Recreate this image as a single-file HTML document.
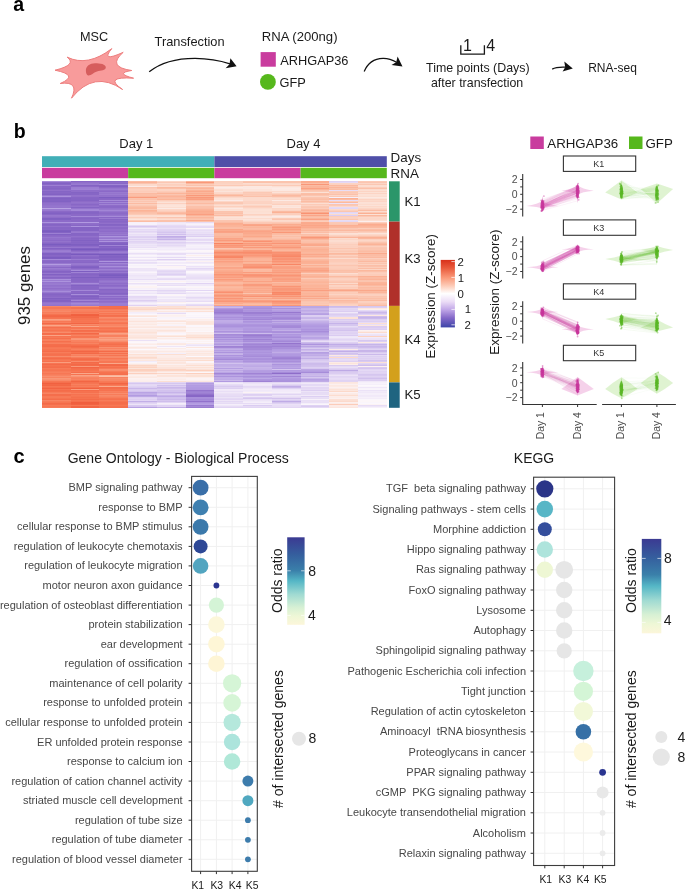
<!DOCTYPE html><html><head><meta charset="utf-8"><style>
html,body{margin:0;padding:0;background:#fff;width:685px;height:889px;overflow:hidden}
#wrap{position:relative;width:685px;height:889px}
svg{position:absolute;left:0;top:0;will-change:transform}
text{font-family:"Liberation Sans", sans-serif}
</style></head><body><div id="wrap">
<div style="position:absolute;left:42.00px;top:181.0px;width:29.03px;height:227px;background:linear-gradient(#a58ad8 0px 1px,#8a69c7 1px 2px,#8262c4 2px 3px,#8a68c7 3px 4px,#9c7fd3 4px 5px,#8866c6 5px 6px,#8867c6 6px 7px,#8464c4 7px 8px,#8968c7 8px 9px,#9170cb 9px 10px,#8565c5 10px 11px,#8867c6 11px 12px,#8665c5 12px 13px,#8262c3 13px 14px,#9879d0 14px 15px,#aa90dc 15px 16px,#8968c7 16px 17px,#8061c3 17px 18px,#8363c4 18px 20px,#8162c3 20px 21px,#8c6ac8 21px 22px,#906fcb 22px 24px,#9373cd 24px 25px,#9576ce 25px 26px,#9474cd 26px 27px,#b8a2e3 27px 28px,#997bd0 28px 29px,#9778cf 29px 30px,#8b69c7 30px 31px,#8564c5 31px 32px,#8161c3 32px 33px,#8968c7 33px 34px,#9677cf 34px 35px,#9474cd 35px 36px,#8e6dc9 36px 37px,#8061c3 37px 38px,#8162c3 38px 39px,#8d6bc9 39px 41px,#ac93dd 41px 42px,#906fca 42px 43px,#8564c5 43px 44px,#8766c6 44px 45px,#9170cb 45px 46px,#8766c6 46px 48px,#8867c6 48px 49px,#7e5fc1 49px 50px,#7b5dc0 50px 51px,#8464c4 51px 52px,#9c7fd3 52px 53px,#8161c3 53px 54px,#8a68c7 54px 55px,#8d6bc9 55px 56px,#9677cf 56px 57px,#906fcb 57px 59px,#8b69c8 59px 60px,#9373cc 60px 61px,#8d6bc8 61px 62px,#8665c5 62px 63px,#7a5cc0 63px 64px,#8363c4 64px 65px,#8967c6 65px 66px,#9778cf 66px 67px,#8362c4 67px 68px,#8c6ac8 68px 69px,#997bd0 69px 70px,#9c7fd3 70px 71px,#9373cd 71px 72px,#8161c3 72px 74px,#8867c6 74px 75px,#8564c5 75px 76px,#7b5cc0 76px 77px,#7e5ec1 77px 78px,#a489d8 78px 79px,#8c6ac8 79px 80px,#8968c7 80px 82px,#9778cf 82px 83px,#b39ce1 83px 84px,#9b7dd2 84px 85px,#9778cf 85px 86px,#8a68c7 86px 87px,#9a7cd1 87px 88px,#9474cd 88px 89px,#8e6dca 89px 90px,#8463c4 90px 91px,#8866c6 91px 92px,#9576ce 92px 93px,#8161c3 93px 94px,#8d6bc8 94px 95px,#9373cd 95px 96px,#8665c5 96px 97px,#8c6ac8 97px 98px,#aa91dc 98px 99px,#9a7cd1 99px 100px,#ac93dd 100px 101px,#9575ce 101px 102px,#997ad0 102px 103px,#9a7cd1 103px 104px,#9171cc 104px 105px,#9474cd 105px 106px,#9879d0 106px 107px,#8f6dca 107px 108px,#9474cd 108px 109px,#997bd1 109px 110px,#a78dda 110px 111px,#9778cf 111px 112px,#8a68c7 112px 113px,#8564c5 113px 114px,#8867c6 114px 115px,#8a68c7 115px 116px,#8f6eca 116px 117px,#8060c2 117px 118px,#8766c6 118px 119px,#8262c3 119px 120px,#8363c4 120px 121px,#9272cc 121px 122px,#9778cf 122px 123px,#9676ce 123px 124px,#9272cc 124px 125px,#f88766 125px 126px,#f77855 126px 128px,#f88361 128px 129px,#f88563 129px 130px,#f88a69 130px 131px,#f77d5b 131px 132px,#f8815f 132px 133px,#f67451 133px 134px,#f36947 134px 135px,#f36746 135px 136px,#f5714e 136px 137px,#f67552 137px 138px,#faa183 138px 139px,#f99475 139px 140px,#f77956 140px 141px,#f8805f 141px 142px,#f36a48 142px 143px,#f77e5c 143px 144px,#faa688 144px 145px,#f88968 145px 146px,#f56f4d 146px 147px,#f77957 147px 148px,#f77a58 148px 149px,#f67451 149px 150px,#f77d5b 150px 151px,#f88c6b 151px 152px,#f56e4c 152px 153px,#f56f4d 153px 154px,#faa385 154px 155px,#f67351 155px 156px,#f77956 156px 157px,#f5704d 157px 158px,#f87f5d 158px 159px,#f88260 159px 160px,#f5704d 160px 161px,#f77957 161px 162px,#f8815f 162px 163px,#f56e4c 163px 164px,#f46d4b 164px 165px,#f46c4a 165px 166px,#f77754 166px 167px,#f77a57 167px 168px,#f67451 168px 169px,#f6724f 169px 170px,#f46c4a 170px 171px,#f77c5a 171px 172px,#f67451 172px 173px,#f5704e 173px 174px,#f67250 174px 175px,#f88b6a 175px 176px,#f67451 176px 177px,#f46b49 177px 178px,#f67552 178px 179px,#f77a57 179px 180px,#f6724f 180px 181px,#fa9d7e 181px 182px,#f77553 182px 183px,#f46a49 183px 184px,#f67350 184px 185px,#f56f4d 185px 186px,#f46d4b 186px 187px,#f77c5a 187px 188px,#f77653 188px 189px,#f67452 189px 190px,#f77b59 190px 191px,#f8805e 191px 192px,#f77755 192px 193px,#f77d5b 193px 194px,#f88362 194px 195px,#f98f6f 195px 196px,#f88361 196px 197px,#f99777 197px 198px,#f99070 198px 199px,#f88968 199px 200px,#f77754 200px 201px,#f5704e 201px 202px,#f16140 202px 203px,#f36947 203px 204px,#f36745 204px 205px,#f77653 205px 206px,#f5704e 206px 207px,#f26443 207px 208px,#f67351 208px 209px,#f46c4a 209px 210px,#f56f4c 210px 211px,#f77b59 211px 212px,#f88362 212px 213px,#f46e4c 213px 214px,#f56e4c 214px 215px,#f77a57 215px 216px,#f77b58 216px 217px,#f67451 217px 218px,#f46d4b 218px 219px,#f88564 219px 220px,#f77a57 220px 221px,#f67552 221px 222px,#f36a48 222px 223px,#f56e4c 223px 224px,#f77b58 224px 225px,#f77653 225px 226px,#f77c59 226px 227px)"></div>
<div style="position:absolute;left:70.73px;top:181.0px;width:29.03px;height:227px;background:linear-gradient(#8766c6 0px 1px,#906fca 1px 2px,#9475ce 2px 3px,#997bd0 3px 4px,#8363c4 4px 5px,#8b69c7 5px 6px,#9b7dd2 6px 7px,#9c7fd3 7px 8px,#9f82d4 8px 9px,#8e6dca 9px 10px,#8f6eca 10px 11px,#8464c4 11px 12px,#8666c5 12px 13px,#8766c6 13px 14px,#9272cc 14px 15px,#9170cb 15px 16px,#8766c6 16px 17px,#8665c5 17px 18px,#8565c5 18px 19px,#8464c4 19px 20px,#8d6bc8 20px 21px,#9373cc 21px 22px,#906fcb 22px 23px,#8867c6 23px 24px,#8e6cc9 24px 25px,#9272cc 25px 26px,#8565c5 26px 27px,#9475cd 27px 28px,#a287d7 28px 29px,#a388d7 29px 30px,#8a69c7 30px 31px,#8565c5 31px 32px,#8665c5 32px 33px,#8b69c7 33px 34px,#8b6ac8 34px 35px,#a489d8 35px 36px,#8a69c7 36px 37px,#8665c5 37px 38px,#8a68c7 38px 39px,#8b69c7 39px 40px,#8a69c7 40px 41px,#b29ae1 41px 42px,#8f6eca 42px 43px,#8d6cc9 43px 44px,#8867c6 44px 45px,#ab92dd 45px 46px,#8463c4 46px 47px,#8464c4 47px 48px,#8564c5 48px 49px,#8565c5 49px 50px,#9576ce 50px 51px,#997ad0 51px 52px,#8565c5 52px 53px,#8665c5 53px 54px,#8766c6 54px 55px,#9171cb 55px 56px,#8c6ac8 56px 57px,#8665c5 57px 58px,#8867c6 58px 59px,#8161c3 59px 60px,#8867c6 60px 61px,#8565c5 61px 62px,#8766c6 62px 63px,#7e5fc1 63px 64px,#8161c3 64px 65px,#8d6bc9 65px 66px,#9575ce 66px 67px,#8161c3 67px 68px,#785abf 68px 69px,#8564c5 69px 70px,#906fca 70px 71px,#997bd1 71px 72px,#8968c7 72px 73px,#795abf 73px 74px,#9070cb 74px 75px,#8b69c8 75px 76px,#8665c5 76px 77px,#8867c6 77px 78px,#9a7cd1 78px 79px,#8a69c7 79px 80px,#8b69c8 80px 81px,#8867c6 81px 82px,#9778cf 82px 83px,#9879d0 83px 84px,#906fca 84px 85px,#8363c4 85px 86px,#8060c2 86px 87px,#8a68c7 87px 88px,#9575ce 88px 89px,#a78dda 89px 90px,#7d5ec1 90px 91px,#9f82d4 91px 92px,#8968c7 92px 93px,#8564c5 93px 94px,#8867c6 94px 95px,#8a69c7 95px 96px,#7e5fc1 96px 97px,#8867c6 97px 100px,#8967c6 100px 101px,#8e6cc9 101px 102px,#a68bd9 102px 103px,#9475cd 103px 104px,#8262c3 104px 105px,#8967c6 105px 106px,#8867c6 106px 108px,#8b69c7 108px 109px,#a387d7 109px 110px,#8967c7 110px 111px,#8b69c7 111px 112px,#8565c5 112px 113px,#a78dda 113px 114px,#8968c7 114px 115px,#8060c2 115px 116px,#8766c5 116px 117px,#8362c4 117px 118px,#8f6eca 118px 119px,#a185d6 119px 120px,#8766c6 120px 121px,#9879d0 121px 122px,#a388d7 122px 123px,#9d81d3 123px 124px,#9879d0 124px 125px,#f99171 125px 126px,#f67451 126px 127px,#f67350 127px 128px,#f88462 128px 129px,#f88260 129px 130px,#f87f5d 130px 131px,#f77856 131px 132px,#f87f5d 132px 133px,#f16241 133px 134px,#f1603f 134px 135px,#f46b49 135px 136px,#f36a48 136px 137px,#f67350 137px 139px,#f77653 139px 140px,#f67451 140px 141px,#f77654 141px 142px,#f26645 142px 143px,#f88968 143px 144px,#f77d5a 144px 145px,#faa587 145px 146px,#f77653 146px 147px,#f77754 147px 148px,#f88867 148px 149px,#f46d4b 149px 150px,#f5704e 150px 151px,#f88463 151px 152px,#f36846 152px 153px,#f67552 153px 154px,#f88361 154px 155px,#f67552 155px 156px,#f77653 156px 157px,#f99575 157px 158px,#f9997a 158px 159px,#f88361 159px 160px,#f88260 160px 161px,#f77a58 161px 162px,#f88462 162px 163px,#f77552 163px 164px,#f56e4c 164px 165px,#f36745 165px 166px,#f46e4c 166px 167px,#f77a57 167px 168px,#f8815f 168px 169px,#f77552 169px 170px,#f26645 170px 171px,#f67350 171px 172px,#f36947 172px 173px,#f88665 173px 174px,#f87f5d 174px 175px,#f99272 175px 176px,#f77e5c 176px 177px,#f46e4c 177px 178px,#f46a48 178px 179px,#f67350 179px 180px,#f88c6c 180px 181px,#f36a48 181px 182px,#f56f4d 182px 183px,#f36947 183px 184px,#f46c4a 184px 185px,#f99879 185px 186px,#f26544 186px 187px,#f56e4c 187px 188px,#f5714e 188px 189px,#f67350 189px 190px,#f77856 190px 191px,#f46d4b 191px 192px,#faa78a 192px 193px,#f67350 193px 194px,#faa285 194px 195px,#f99475 195px 196px,#f88462 196px 197px,#f8805f 197px 198px,#f88463 198px 199px,#f77754 199px 200px,#f26644 200px 201px,#f5714f 201px 202px,#f67552 202px 203px,#f8805e 203px 204px,#f77754 204px 205px,#f77e5c 205px 206px,#f6724f 206px 207px,#f16140 207px 208px,#fa9e7f 208px 209px,#f46b49 209px 210px,#f6724f 210px 211px,#f5714f 211px 212px,#f87f5d 212px 213px,#f67250 213px 214px,#f77855 214px 215px,#f67552 215px 216px,#f5704d 216px 217px,#f67350 217px 218px,#f46b49 218px 219px,#f67552 219px 220px,#f56f4d 220px 221px,#f05e3e 221px 222px,#f05f3e 222px 223px,#f26342 223px 224px,#f77754 224px 225px,#f26645 225px 226px,#f26644 226px 227px)"></div>
<div style="position:absolute;left:99.47px;top:181.0px;width:29.03px;height:227px;background:linear-gradient(#8766c6 0px 1px,#8d6cc9 1px 2px,#8a68c7 2px 3px,#a185d6 3px 4px,#8464c4 4px 5px,#8161c3 5px 6px,#8b69c8 6px 7px,#9475cd 7px 8px,#997bd1 8px 9px,#8f6fca 9px 10px,#8b69c8 10px 11px,#987ad0 11px 12px,#9474cd 12px 13px,#997bd1 13px 14px,#9170cb 14px 15px,#9272cc 15px 16px,#7d5ec1 16px 17px,#8766c6 17px 18px,#8967c6 18px 19px,#a48ad8 19px 20px,#8c6ac8 20px 21px,#a186d6 21px 22px,#8e6dca 22px 23px,#9f82d4 23px 24px,#8e6cc9 24px 25px,#8968c7 25px 26px,#8a69c7 26px 27px,#9373cd 27px 28px,#9778cf 28px 29px,#a286d6 29px 30px,#9576ce 30px 31px,#8e6cc9 31px 32px,#8b69c7 32px 33px,#8e6dca 33px 34px,#9474cd 34px 35px,#a58ad8 35px 36px,#8967c6 36px 37px,#997ad0 37px 38px,#8665c5 38px 39px,#8b69c7 39px 40px,#8766c6 40px 41px,#8b69c7 41px 42px,#9170cb 42px 43px,#8464c4 43px 44px,#8666c5 44px 45px,#9373cd 45px 46px,#8b69c8 46px 47px,#8a69c7 47px 48px,#9170cb 48px 49px,#906fcb 49px 50px,#8d6bc9 50px 51px,#9575ce 51px 52px,#9373cc 52px 53px,#997bd0 53px 54px,#8f6eca 54px 55px,#ad95de 55px 56px,#9c7fd2 56px 57px,#9576ce 57px 58px,#ac93dd 58px 59px,#9272cc 59px 60px,#ac93dd 60px 61px,#8867c6 61px 62px,#8363c4 62px 63px,#7f60c2 63px 64px,#9f83d5 64px 65px,#8161c3 65px 66px,#8766c6 66px 67px,#8061c3 67px 68px,#7d5ec1 68px 69px,#8766c6 69px 70px,#9677cf 70px 71px,#9b7dd2 71px 72px,#8e6dca 72px 73px,#775abe 73px 74px,#8666c5 74px 75px,#8161c3 75px 76px,#8262c3 76px 77px,#8766c6 77px 78px,#8363c4 78px 79px,#8e6cc9 79px 80px,#ad95de 80px 81px,#8867c6 81px 82px,#a184d6 82px 83px,#9677cf 83px 84px,#9070cb 84px 85px,#a88eda 85px 86px,#9879d0 86px 87px,#8f6eca 87px 88px,#9d80d3 88px 89px,#9677ce 89px 90px,#8a69c7 90px 91px,#9677cf 91px 92px,#8766c6 92px 93px,#7e5fc2 93px 94px,#7a5cc0 94px 95px,#8564c5 95px 96px,#7d5ec1 96px 97px,#8c6ac8 97px 99px,#9373cd 99px 100px,#987ad0 100px 101px,#9474cd 101px 102px,#8d6cc9 102px 103px,#9373cc 103px 104px,#8a69c7 104px 105px,#8e6dca 105px 106px,#9a7cd1 106px 107px,#9778cf 107px 108px,#8665c5 108px 109px,#8b69c7 109px 110px,#8d6bc8 110px 111px,#8c6ac8 111px 112px,#8464c4 112px 113px,#8b69c7 113px 114px,#9f83d5 114px 115px,#8c6ac8 115px 116px,#9778cf 116px 117px,#8968c7 117px 118px,#8e6cc9 118px 119px,#9677cf 119px 120px,#8e6cc9 120px 121px,#9272cc 121px 122px,#9b7ed2 122px 123px,#9b7dd2 123px 124px,#997bd0 124px 125px,#f56e4c 125px 126px,#f56f4d 126px 127px,#f46c4a 127px 128px,#f77c5a 128px 129px,#f88362 129px 130px,#f77956 130px 131px,#f88766 131px 132px,#f77653 132px 133px,#f87f5d 133px 134px,#f56f4c 134px 135px,#f5714f 135px 136px,#f98e6d 136px 137px,#f88564 137px 138px,#f77a58 138px 139px,#f88261 139px 140px,#f88a69 140px 141px,#f77a57 141px 142px,#f67351 142px 143px,#f88462 143px 145px,#f88d6c 145px 146px,#f77b58 146px 147px,#f67350 147px 148px,#f77b58 148px 149px,#f77653 149px 150px,#f56f4d 150px 151px,#f88462 151px 152px,#faa285 152px 153px,#f99576 153px 154px,#f8805f 154px 155px,#f8815f 155px 156px,#fa9e80 156px 157px,#f99373 157px 158px,#faa284 158px 159px,#f9997a 159px 160px,#f88c6c 160px 161px,#f77a58 161px 162px,#f67451 162px 163px,#f46e4c 163px 164px,#f77855 164px 165px,#f67452 165px 166px,#f99070 166px 167px,#f88260 167px 168px,#f99070 168px 169px,#f8815f 169px 170px,#f46b49 170px 171px,#f88766 171px 172px,#f5704d 172px 173px,#f88665 173px 174px,#f67451 174px 175px,#f88867 175px 176px,#f88968 176px 177px,#f77653 177px 178px,#f8805e 178px 179px,#f88361 179px 180px,#f77754 180px 181px,#f77855 181px 182px,#faa789 182px 183px,#f36948 183px 184px,#f36746 184px 185px,#f77653 185px 186px,#f56f4d 186px 187px,#f77a58 187px 188px,#f98f6f 188px 189px,#f88c6b 189px 190px,#f77c5a 190px 191px,#f67350 191px 192px,#f5714f 192px 193px,#f56f4d 193px 194px,#fbb398 194px 195px,#fbbfa8 195px 196px,#f88260 196px 197px,#f98d6d 197px 198px,#f88867 198px 199px,#f88766 199px 200px,#f77b58 200px 201px,#f77754 201px 202px,#f26544 202px 203px,#f56f4d 203px 204px,#f77c59 204px 205px,#faa88b 205px 206px,#f46c4a 206px 207px,#f46e4c 207px 208px,#f67552 208px 209px,#f67250 209px 210px,#f8805e 210px 211px,#f77c5a 211px 212px,#f98d6d 212px 213px,#f77c59 213px 214px,#f88a6a 214px 215px,#f88563 215px 216px,#f77e5c 216px 217px,#f67451 217px 218px,#f5704e 218px 219px,#f77c5a 219px 220px,#f67451 220px 221px,#f46d4b 221px 223px,#f5704d 223px 224px,#f77754 224px 225px,#f5704e 225px 226px,#f56f4c 226px 227px)"></div>
<div style="position:absolute;left:128.20px;top:181.0px;width:29.03px;height:227px;background:linear-gradient(#fbbca3 0px 1px,#fbb297 1px 2px,#fbc4af 2px 3px,#fcdacc 3px 4px,#fcdbcd 4px 5px,#fceae5 5px 6px,#fbc6b1 6px 7px,#fccbb8 7px 8px,#fcd0bf 8px 9px,#fccfbd 9px 10px,#fccbb8 10px 11px,#fccebc 11px 12px,#fbbaa1 12px 13px,#fbbfa7 13px 14px,#fbbea6 14px 15px,#fbb79d 15px 16px,#fa9c7e 16px 17px,#fbc3ad 17px 18px,#fbc1aa 18px 19px,#fccebc 19px 20px,#fbc5b0 20px 21px,#fcd0bf 21px 22px,#fbbba2 22px 23px,#fccfbd 23px 24px,#fbc9b4 24px 25px,#fbc0a9 25px 26px,#fbbaa1 26px 27px,#fbbaa0 27px 28px,#fbc8b3 28px 29px,#fbb397 29px 30px,#fbb89e 30px 31px,#fbc0a9 31px 32px,#fbc3ac 32px 33px,#fccab6 33px 34px,#fcdccf 34px 35px,#fcdcce 35px 36px,#fccdba 36px 37px,#fcdcce 37px 38px,#fce4da 38px 39px,#fccbb8 39px 40px,#fbbda5 40px 41px,#f6f0fa 41px 42px,#f7f2fb 42px 43px,#f7f2fa 43px 44px,#e6dbf5 44px 45px,#d7c8ef 45px 46px,#e4d8f4 46px 47px,#f3ecf9 47px 48px,#e5daf5 48px 49px,#e9dff6 49px 50px,#e2d5f4 50px 51px,#e7dcf5 51px 52px,#f0e8f8 52px 53px,#e9def6 53px 54px,#ebe2f7 54px 55px,#dfd2f3 55px 56px,#ded0f2 56px 57px,#e8def6 57px 58px,#ded1f2 58px 59px,#eae0f6 59px 60px,#e0d3f3 60px 61px,#e3d7f4 61px 62px,#e7dcf5 62px 63px,#eee6f8 63px 64px,#eae1f6 64px 65px,#eee5f7 65px 66px,#e9def6 66px 67px,#f6f1fa 67px 68px,#f2ebf9 68px 69px,#fcf8fc 69px 70px,#faf6fc 70px 71px,#f6f0fa 71px 72px,#e9dff6 72px 73px,#f1e9f8 73px 74px,#faf6fb 74px 75px,#f7f2fa 75px 76px,#eee6f8 76px 77px,#fcf7fb 77px 78px,#f1eaf9 78px 79px,#eae0f6 79px 80px,#f6f0fa 80px 81px,#e8def6 81px 82px,#ebe2f7 82px 83px,#faf6fb 83px 84px,#f6f1fa 84px 85px,#f9f4fb 85px 86px,#faf5fb 86px 87px,#ede4f7 87px 88px,#eee5f7 88px 89px,#ede5f7 89px 90px,#f5eefa 90px 91px,#faf5fb 91px 92px,#f3ebf9 92px 93px,#f2eaf9 93px 94px,#ede4f7 94px 95px,#efe7f8 95px 96px,#f1e9f8 96px 97px,#f1eaf9 97px 98px,#e7ddf5 98px 99px,#f7f1fa 99px 100px,#f5effa 100px 101px,#fcf6f9 101px 102px,#eae0f6 102px 103px,#f2ebf9 103px 104px,#faf5fb 104px 105px,#fcf3f4 105px 106px,#fcf3f3 106px 107px,#f6f0fa 107px 108px,#f8f3fb 108px 109px,#e4d8f4 109px 110px,#f4edf9 110px 111px,#f3ecf9 111px 112px,#eee6f8 112px 113px,#f9f4fb 113px 114px,#f5effa 114px 115px,#e4d8f4 115px 116px,#e6daf5 116px 117px,#e9dff6 117px 118px,#ece2f7 118px 119px,#dccef1 119px 120px,#e5daf5 120px 121px,#f2ebf9 121px 122px,#f7f1fa 122px 123px,#f2eaf9 123px 124px,#e0d2f3 124px 125px,#fcedea 125px 126px,#fcdcce 126px 128px,#fcd6c6 128px 129px,#fce6df 129px 130px,#fceae5 130px 131px,#f4edf9 131px 132px,#f6f0fa 132px 133px,#fbf7fc 133px 134px,#fceae4 134px 135px,#fce5dc 135px 136px,#fcf7fa 136px 137px,#fceeec 137px 138px,#fceeeb 138px 139px,#fcece8 139px 140px,#fce3da 140px 141px,#fceeeb 141px 142px,#fcede9 142px 143px,#fce9e3 143px 144px,#fcf0ee 144px 145px,#fceae5 145px 146px,#fce7e0 146px 147px,#fcf2f2 147px 148px,#fcebe6 148px 149px,#fce9e3 149px 150px,#fce8e1 150px 151px,#fce2d7 151px 152px,#fce7e0 152px 153px,#fcece9 153px 154px,#fce7e0 154px 155px,#fce6df 155px 156px,#fce3d9 156px 157px,#fce8e1 157px 158px,#fcf2f2 158px 159px,#eae0f6 159px 160px,#fcf5f8 160px 161px,#fcf7fb 161px 162px,#fcf1f0 162px 163px,#fcece9 163px 164px,#fcf6f9 164px 165px,#fcf1f0 165px 166px,#fce7e0 166px 167px,#fcece9 167px 168px,#fcf8fc 168px 169px,#fcefed 169px 170px,#fceae5 170px 172px,#fcf1f1 172px 173px,#fce0d4 173px 174px,#fce8e2 174px 175px,#fce6de 175px 176px,#fcdacc 176px 177px,#fcdfd3 177px 178px,#fcebe7 178px 179px,#fce7e0 179px 180px,#f2ebf9 180px 181px,#f9f5fb 181px 182px,#fcf1f0 182px 183px,#fce6de 183px 184px,#fcd4c3 184px 185px,#fcdbcd 185px 186px,#fcd3c2 186px 187px,#fce4da 187px 188px,#fcd0be 188px 190px,#fcd9cb 190px 191px,#fce7e0 191px 192px,#fccfbe 192px 193px,#fce9e3 193px 194px,#fcf0ef 194px 195px,#fcebe6 195px 196px,#fce9e3 196px 197px,#fcf2f2 197px 198px,#fcf0ef 198px 199px,#fcefed 199px 200px,#fcedea 200px 201px,#e3d7f4 201px 202px,#d6c6ef 202px 203px,#e4d8f4 203px 204px,#e5daf5 204px 205px,#dfd2f3 205px 206px,#daccf1 206px 207px,#c9b7ea 207px 208px,#d9cbf0 208px 209px,#dbcdf1 209px 210px,#d3c3ee 210px 211px,#b9a3e4 211px 212px,#c1ade7 212px 213px,#c4b0e8 213px 214px,#b29be1 214px 215px,#bda8e5 215px 216px,#dccef2 216px 217px,#e1d4f3 217px 218px,#dccef1 218px 219px,#e2d5f4 219px 220px,#c2afe7 220px 221px,#dacbf0 221px 222px,#e2d6f4 222px 223px,#ede5f7 223px 224px,#d8c9f0 224px 225px,#d5c5ef 225px 226px,#b8a2e3 226px 227px)"></div>
<div style="position:absolute;left:156.93px;top:181.0px;width:29.03px;height:227px;background:linear-gradient(#fcd6c6 0px 1px,#fbc7b3 1px 2px,#fcd9cb 2px 3px,#fcd0be 3px 4px,#fcd2c1 4px 5px,#fcdacc 5px 6px,#fbb9a0 6px 7px,#fbc0a8 7px 8px,#fcd4c3 8px 9px,#fcd4c4 9px 10px,#fcccb8 10px 11px,#fbc4af 11px 12px,#fbb599 12px 13px,#fbc5b0 13px 14px,#fbbaa1 14px 15px,#fbb398 15px 16px,#fbbba3 16px 17px,#fbbea6 17px 18px,#fbb498 18px 19px,#fccebb 19px 20px,#fcd8c9 20px 21px,#fce2d7 21px 22px,#fcd0bf 22px 23px,#fce0d5 23px 24px,#fce3d9 24px 25px,#fce4da 25px 26px,#fcddd0 26px 27px,#fceae4 27px 28px,#fcd7c8 28px 29px,#fcd3c3 29px 30px,#fcccb9 30px 31px,#fbbda5 31px 32px,#fbb69c 32px 33px,#fbc7b2 33px 34px,#fcdcce 34px 35px,#fce1d5 35px 36px,#fbc4af 36px 37px,#fcd5c5 37px 38px,#fcdccf 38px 39px,#fbc2ac 39px 40px,#fbc2ab 40px 41px,#efe7f8 41px 42px,#f3ecf9 42px 43px,#f0e8f8 43px 44px,#e6dbf5 44px 45px,#e2d6f4 45px 46px,#e4d8f4 46px 47px,#eae0f6 47px 48px,#e1d4f3 48px 49px,#dfd2f3 49px 50px,#dbcef1 50px 51px,#d5c5ef 51px 52px,#dfd2f3 52px 53px,#d0bfed 53px 54px,#e5d9f5 54px 55px,#c0ace7 55px 56px,#c7b5e9 56px 57px,#d4c5ee 57px 58px,#c5b3e9 58px 59px,#e3d6f4 59px 60px,#e9dff6 60px 61px,#ddcff2 61px 62px,#e3d7f4 62px 63px,#e9dff6 63px 64px,#e4d9f4 64px 65px,#ebe1f6 65px 66px,#f1eaf8 66px 67px,#f4eefa 67px 68px,#f2ebf9 68px 69px,#f7f1fa 69px 70px,#fbf7fc 70px 71px,#f5eefa 71px 72px,#e7dcf5 72px 73px,#e8def6 73px 74px,#f7f2fb 74px 75px,#f5effa 75px 76px,#e5daf5 76px 77px,#f9f4fb 77px 78px,#ddd0f2 78px 79px,#eee5f7 79px 80px,#faf6fb 80px 81px,#f2eaf9 81px 82px,#f3ecf9 82px 83px,#fcf7fb 83px 84px,#eee6f8 84px 85px,#fcf4f6 85px 87px,#faf5fb 87px 88px,#f2ebf9 88px 89px,#e6dbf5 89px 90px,#e2d6f4 90px 91px,#e7ddf5 91px 92px,#e3d8f4 92px 93px,#ddd0f2 93px 94px,#e6dbf5 94px 95px,#f8f3fb 95px 96px,#f4eefa 96px 97px,#e9def6 97px 98px,#e5daf5 98px 99px,#f8f2fb 99px 100px,#fcf2f2 100px 101px,#fbf7fc 101px 102px,#e8def6 102px 103px,#efe7f8 103px 104px,#e9dff6 104px 105px,#fcf7fa 105px 106px,#f8f3fb 106px 107px,#f1eaf8 107px 108px,#f0e9f8 108px 109px,#e2d6f4 109px 110px,#eae0f6 110px 111px,#ede5f7 111px 112px,#e4d8f4 112px 113px,#f9f4fb 113px 114px,#fcf5f7 114px 115px,#f2ebf9 115px 116px,#f0e9f8 116px 117px,#f6f1fa 117px 118px,#eee5f7 118px 119px,#efe7f8 119px 120px,#ebe2f7 120px 121px,#fcf1f0 121px 122px,#fcf7fb 122px 123px,#f1e9f8 123px 124px,#ede4f7 124px 125px,#fcdfd3 125px 126px,#fce1d5 126px 127px,#fcd6c7 127px 128px,#fce7df 128px 129px,#fcf2f2 129px 130px,#fce7df 130px 131px,#f4edf9 131px 132px,#e7dcf5 132px 133px,#fcf4f5 133px 134px,#fcf0ef 134px 135px,#fcf2f1 135px 136px,#f8f3fb 136px 137px,#f9f4fb 137px 138px,#fcf5f7 138px 139px,#fceae5 139px 140px,#fce4db 140px 141px,#fcf4f6 141px 142px,#fceeeb 142px 143px,#fcf3f3 143px 144px,#f7f2fb 144px 145px,#fce9e3 145px 146px,#fce7df 146px 147px,#fcf1f0 147px 148px,#fcedea 148px 149px,#fce4db 149px 150px,#fce9e4 150px 151px,#fcf2f3 151px 152px,#f9f4fb 152px 153px,#fcf6f9 153px 154px,#fceae4 154px 155px,#fce0d4 155px 156px,#fcf2f2 156px 157px,#fcebe7 157px 158px,#fcf2f2 158px 159px,#fcf8fc 159px 160px,#faf5fb 160px 161px,#f9f4fb 161px 162px,#fceae5 162px 163px,#fce8e2 163px 164px,#fcf5f7 164px 165px,#eee6f8 165px 166px,#fcf7fb 166px 167px,#fcede9 167px 168px,#fcf3f4 168px 169px,#fcf1f0 169px 170px,#fce9e4 170px 171px,#fcf0ee 171px 172px,#f4eefa 172px 173px,#fcdfd2 173px 174px,#fcedea 174px 175px,#fcece8 175px 176px,#fcebe7 176px 177px,#fce7e0 177px 178px,#fce8e2 178px 179px,#fce0d4 179px 180px,#fcebe7 180px 181px,#fce5dd 181px 182px,#fce6de 182px 183px,#fcf0ef 183px 184px,#fce7df 184px 185px,#fce9e3 185px 186px,#fce3da 186px 188px,#fcd4c3 188px 189px,#fcd5c5 189px 190px,#fce6df 190px 191px,#fcefec 191px 192px,#fcd7c8 192px 193px,#fcece8 193px 194px,#fce4da 194px 195px,#fce4db 195px 196px,#fcefed 196px 198px,#fcede9 198px 199px,#fcf1f0 199px 200px,#fcdfd2 200px 201px,#e3d7f4 201px 202px,#d5c6ef 202px 203px,#e2d6f4 203px 204px,#d0c0ed 204px 205px,#dbcdf1 205px 206px,#c9b7ea 206px 207px,#cfbeec 207px 208px,#d9cbf0 208px 209px,#d2c2ed 209px 210px,#d2c2ee 210px 211px,#c6b3e9 211px 212px,#d2c2ee 212px 213px,#dbcdf1 213px 214px,#c8b5e9 214px 215px,#bea9e6 215px 216px,#d0bfed 216px 217px,#d0c0ed 217px 218px,#cab8ea 218px 219px,#d7c8ef 219px 220px,#cfbeec 220px 221px,#e2d6f4 221px 222px,#f5eefa 222px 223px,#f0e9f8 223px 224px,#dfd2f3 224px 225px,#e2d5f4 225px 226px,#c3afe7 226px 227px)"></div>
<div style="position:absolute;left:185.67px;top:181.0px;width:29.03px;height:227px;background:linear-gradient(#fbb69c 0px 1px,#f99879 1px 2px,#fbb9a0 2px 3px,#fccdba 3px 4px,#fbc2ac 4px 5px,#fcd8ca 5px 6px,#fbbda5 6px 7px,#fbb59a 7px 8px,#fbc2ab 8px 9px,#fbb499 9px 10px,#faa98c 10px 11px,#fbb89e 11px 12px,#fbad90 12px 13px,#fbb79c 13px 14px,#f9997a 14px 15px,#fbb296 15px 16px,#f9997b 16px 17px,#faa587 17px 18px,#fa9f81 18px 19px,#fbbca4 19px 20px,#fbc6b1 20px 22px,#fbbaa1 22px 23px,#fccab7 23px 24px,#fccdbb 24px 25px,#fbc1aa 25px 26px,#fbc0aa 26px 27px,#fbbea6 27px 28px,#fbb59b 28px 29px,#fbb195 29px 30px,#fbab8e 30px 31px,#fbae91 31px 32px,#fbad91 32px 33px,#fa9f81 33px 34px,#fbb499 34px 35px,#fbc2ab 35px 36px,#fbb69c 36px 37px,#fbbfa7 37px 38px,#fbc5af 38px 39px,#faaa8e 39px 40px,#fbc3ad 40px 41px,#e7dcf5 41px 42px,#f5eefa 42px 43px,#f8f3fb 43px 44px,#f1e9f8 44px 45px,#e7dcf5 45px 46px,#e5daf5 46px 47px,#fcf5f7 47px 48px,#ece3f7 48px 49px,#e8ddf6 49px 50px,#ece3f7 50px 51px,#e8def6 51px 52px,#eae0f6 52px 53px,#e1d4f3 53px 54px,#e6dcf5 54px 55px,#dbcdf1 55px 56px,#f3edf9 56px 57px,#efe7f8 57px 58px,#e4d9f4 58px 59px,#e7dcf5 59px 60px,#f4eefa 60px 61px,#e3d7f4 61px 62px,#eae0f6 62px 63px,#f2ebf9 63px 64px,#f7f2fa 64px 65px,#f5effa 65px 66px,#f6f0fa 66px 67px,#f1eaf9 67px 68px,#efe7f8 68px 69px,#fcf7fb 69px 70px,#fcf6f9 70px 71px,#f6f0fa 71px 72px,#ece3f7 72px 73px,#f9f4fb 73px 74px,#fcefed 74px 75px,#fcf6f9 75px 76px,#f0e8f8 76px 77px,#fcf8fc 77px 78px,#ebe1f6 78px 79px,#f4eef9 79px 80px,#fcf2f2 80px 81px,#efe7f8 81px 82px,#f3ecf9 82px 83px,#fcf8fc 83px 84px,#f8f3fb 84px 85px,#ece2f7 85px 86px,#f2ebf9 86px 87px,#e3d7f4 87px 88px,#e9dff6 88px 89px,#efe7f8 89px 90px,#fcf7fb 90px 91px,#fbf7fc 91px 92px,#f5effa 92px 93px,#efe7f8 93px 94px,#ece3f7 94px 95px,#ebe1f6 95px 96px,#e8def6 96px 97px,#e8ddf5 97px 98px,#eee6f8 98px 99px,#f7f2fa 99px 100px,#f4edf9 100px 101px,#f8f2fb 101px 102px,#e0d3f3 102px 103px,#f0e9f8 103px 104px,#f1e9f8 104px 105px,#f9f5fb 105px 106px,#fcf5f7 106px 107px,#f6f0fa 107px 108px,#f8f3fb 108px 109px,#e2d6f4 109px 110px,#fbf7fc 110px 111px,#f1e9f8 111px 112px,#ede5f7 112px 113px,#f6f0fa 113px 114px,#f5eefa 114px 115px,#f0e8f8 115px 116px,#e4d9f4 116px 117px,#eae0f6 117px 118px,#f0e9f8 118px 119px,#eee5f7 119px 120px,#e7dcf5 120px 121px,#fcf6f9 121px 122px,#f7f2fb 122px 123px,#e8def6 123px 124px,#e2d5f4 124px 125px,#fce9e3 125px 126px,#fceae4 126px 127px,#fcdccf 127px 128px,#fce3d8 128px 129px,#fcefec 129px 130px,#fce1d6 130px 131px,#f9f4fb 131px 132px,#fbf7fc 132px 133px,#fcf8fc 133px 134px,#faf5fb 134px 135px,#fcf7fa 135px 136px,#f6f0fa 136px 137px,#fcf6f8 137px 138px,#fcefec 138px 139px,#fcefee 139px 140px,#fce7df 140px 141px,#fce6de 141px 142px,#fce5dd 142px 143px,#fce8e1 143px 144px,#fcf7fa 144px 145px,#fbf6fc 145px 146px,#fcf1f0 146px 147px,#fcf5f6 147px 149px,#fcf4f5 149px 150px,#fcf7fa 150px 151px,#fcedea 151px 152px,#fcf0ee 152px 153px,#fcebe6 153px 154px,#fce2d7 154px 155px,#fce4da 155px 156px,#fcdbce 156px 157px,#fceae4 157px 158px,#fceeeb 158px 159px,#fcf7fa 159px 160px,#fcf3f3 160px 161px,#fcf7fb 161px 162px,#fcefec 162px 163px,#f2eaf9 163px 164px,#ece3f7 164px 165px,#f9f4fb 165px 166px,#fce6de 166px 167px,#fcf8fb 167px 168px,#fcf2f2 168px 169px,#fceeeb 169px 170px,#fce7e0 170px 171px,#fceeec 171px 172px,#fce7df 172px 173px,#fcebe6 173px 174px,#fceae5 174px 175px,#fcf8fc 175px 176px,#fce3d9 176px 177px,#fce2d7 177px 178px,#fceae4 178px 179px,#fcddcf 179px 180px,#fcf4f6 180px 182px,#fceae5 182px 183px,#fce9e4 183px 184px,#fcded1 184px 185px,#fcece7 185px 186px,#fce1d6 186px 187px,#fce9e3 187px 188px,#fce1d6 188px 189px,#fcd0be 189px 190px,#fce6de 190px 191px,#fcf6f9 191px 192px,#fccfbd 192px 193px,#fce6de 193px 194px,#fce1d6 194px 195px,#fce1d5 195px 196px,#fceeeb 196px 197px,#fcf3f4 197px 198px,#fcf3f3 198px 199px,#fcf0ee 199px 200px,#fce6df 200px 201px,#ccbbeb 201px 202px,#b39ce1 202px 203px,#baa5e4 203px 204px,#b29be1 204px 205px,#b39de2 205px 206px,#b19ae1 206px 207px,#b099e0 207px 208px,#b098df 208px 209px,#9474cd 209px 210px,#9d80d3 210px 211px,#a084d5 211px 212px,#9c7ed2 212px 213px,#9272cc 213px 214px,#8867c6 214px 215px,#8766c6 215px 216px,#a98fdb 216px 217px,#a88eda 217px 218px,#a287d7 218px 219px,#a78dda 219px 220px,#9272cc 220px 221px,#ab92dc 221px 222px,#b39ce1 222px 223px,#b7a1e3 223px 224px,#9b7dd2 224px 225px,#a58ad8 225px 226px,#9b7ed2 226px 227px)"></div>
<div style="position:absolute;left:214.40px;top:181.0px;width:29.03px;height:227px;background:linear-gradient(#fcd0be 0px 1px,#fcd1bf 1px 2px,#fcd3c2 2px 3px,#fcd6c7 3px 4px,#fcc9b5 4px 5px,#fce2d7 5px 6px,#fcebe6 6px 7px,#fce7e0 7px 8px,#fcded1 8px 9px,#fcddcf 9px 10px,#fce4da 10px 11px,#fcd8ca 11px 12px,#fcd7c8 12px 13px,#fbc5af 13px 14px,#fbb79c 14px 15px,#fbc9b5 15px 16px,#fcd7c8 16px 17px,#fce1d6 17px 19px,#fceae5 19px 20px,#fcd7c8 20px 21px,#fbc8b3 21px 22px,#fbc7b2 22px 23px,#fcd6c6 23px 24px,#fcded1 24px 25px,#fcd0be 25px 26px,#fcdcce 26px 27px,#fce8e1 27px 28px,#fce0d4 28px 29px,#fce1d5 29px 30px,#fbc4ae 30px 31px,#fbc5b0 31px 32px,#fbc1aa 32px 33px,#fccab6 33px 34px,#fbbca4 34px 35px,#fcdacc 35px 36px,#fce2d7 36px 37px,#fcded1 37px 38px,#fce0d5 38px 39px,#fbc5b0 39px 40px,#fbc4ae 40px 41px,#fbbda5 41px 42px,#fbad90 42px 43px,#fbae91 43px 44px,#fbb397 44px 45px,#fbb499 45px 46px,#fbbba3 46px 47px,#fbbca3 47px 48px,#faa587 48px 49px,#faaa8d 49px 50px,#faa082 50px 51px,#faa386 51px 52px,#fbbba2 52px 54px,#fbbaa1 54px 55px,#fbb59a 55px 56px,#fbb69b 56px 57px,#faa386 57px 58px,#faa88a 58px 59px,#f99a7b 59px 60px,#fbac90 60px 61px,#fbb59a 61px 62px,#f88564 62px 63px,#faa385 63px 64px,#f99677 64px 65px,#fa9d7f 65px 66px,#fa9c7e 66px 67px,#fbc4af 67px 68px,#fbb99f 68px 69px,#faa588 69px 70px,#fa9d7e 70px 71px,#f88c6b 71px 72px,#f99576 72px 73px,#fa9e80 73px 74px,#f99474 74px 75px,#f88867 75px 76px,#f88665 76px 77px,#faa486 77px 78px,#faa082 78px 79px,#fbad91 79px 80px,#fa9f81 80px 81px,#faa88b 81px 82px,#fbae91 82px 83px,#fbaf93 83px 84px,#fbb195 84px 85px,#fbb79c 85px 86px,#faa588 86px 87px,#faa78a 87px 88px,#fbb397 88px 89px,#fbac8f 89px 90px,#faa98c 90px 91px,#faa385 91px 92px,#faa78a 92px 93px,#f99575 93px 94px,#fa9e7f 94px 95px,#faa386 95px 96px,#fa9d7f 96px 97px,#fbae92 97px 98px,#f99b7c 98px 99px,#faa688 99px 100px,#fbac90 100px 101px,#fbbaa1 101px 102px,#fbbaa0 102px 103px,#fbb094 103px 104px,#faa88b 104px 105px,#fbb79c 105px 106px,#fbbaa1 106px 107px,#fbb69b 107px 108px,#fbb499 108px 109px,#fbaf93 109px 110px,#fa9d7f 110px 111px,#f99070 111px 112px,#fbae91 112px 113px,#faa385 113px 114px,#f99676 114px 115px,#f99c7d 115px 116px,#faa98c 116px 117px,#f99475 117px 118px,#faa587 118px 119px,#fa9d7e 119px 120px,#f99676 120px 121px,#fbab8f 121px 123px,#fbbca3 123px 124px,#faa386 124px 125px,#bfabe6 125px 126px,#cab8ea 126px 127px,#b19ae0 127px 128px,#a68bd9 128px 129px,#a185d6 129px 131px,#9a7bd1 131px 132px,#a185d6 132px 133px,#ac93dd 133px 134px,#b59ee2 134px 135px,#b29be1 135px 136px,#aa90db 136px 137px,#b29be1 137px 138px,#ad95de 138px 139px,#c1ade7 139px 140px,#c0ace7 140px 141px,#bea9e6 141px 142px,#b8a3e3 142px 143px,#af97df 143px 144px,#ac93dd 144px 145px,#aa91dc 145px 146px,#b29be1 146px 147px,#b8a2e3 147px 149px,#bfaae6 149px 150px,#ac93dd 150px 151px,#b7a1e3 151px 152px,#cebdec 152px 153px,#a58ad8 153px 154px,#a990db 154px 155px,#af97df 155px 156px,#a68bd9 156px 157px,#b8a3e3 157px 158px,#aa91dc 158px 159px,#b8a2e3 159px 160px,#b39ce1 160px 161px,#c2afe7 161px 162px,#b8a3e3 162px 163px,#af97df 163px 164px,#c1ade7 164px 165px,#9f82d4 165px 166px,#a387d7 166px 167px,#baa4e4 167px 168px,#c1aee7 168px 169px,#b59ee2 169px 170px,#bfabe6 170px 171px,#ac94dd 171px 172px,#c2afe7 172px 173px,#c6b3e9 173px 174px,#ac93dd 174px 175px,#b8a3e3 175px 176px,#af98df 176px 177px,#ad94de 177px 178px,#a388d7 178px 179px,#bda8e5 179px 180px,#b7a1e3 180px 181px,#c0ace6 181px 182px,#d2c2ee 182px 183px,#c0ace7 183px 184px,#c1ade7 184px 185px,#c3b0e8 185px 186px,#cab8ea 186px 187px,#b49ee2 187px 188px,#cbb9eb 188px 189px,#bda8e5 189px 190px,#c6b3e9 190px 191px,#bba6e5 191px 192px,#a286d6 192px 193px,#b098e0 193px 194px,#bca7e5 194px 195px,#ac93dd 195px 196px,#bfabe6 196px 197px,#c0ace7 197px 198px,#bda9e5 198px 199px,#ccbbeb 199px 200px,#b19ae1 200px 201px,#ebe2f7 201px 202px,#f2ebf9 202px 203px,#e7ddf5 203px 204px,#e2d6f4 204px 205px,#d9cbf0 205px 206px,#e1d5f3 206px 207px,#ddd0f2 207px 208px,#f2eaf9 208px 209px,#f0e8f8 209px 210px,#e9dff6 210px 211px,#f0e8f8 211px 212px,#ebe1f6 212px 213px,#e8ddf5 213px 214px,#e7dcf5 214px 215px,#e4d9f4 215px 216px,#ece3f7 216px 217px,#e4d9f4 217px 218px,#e2d5f4 218px 219px,#eee5f7 219px 220px,#e3d7f4 220px 221px,#eae1f6 221px 222px,#e6dbf5 222px 223px,#f5effa 223px 224px,#eee6f8 224px 225px,#e7dcf5 225px 226px,#e1d4f3 226px 227px)"></div>
<div style="position:absolute;left:243.13px;top:181.0px;width:29.03px;height:227px;background:linear-gradient(#fbc5b0 0px 1px,#fbc1aa 1px 2px,#fcddd1 2px 3px,#fcd8c9 3px 4px,#fccdba 4px 5px,#fce8e1 5px 6px,#fce7e0 6px 7px,#fce8e2 7px 8px,#fce3d9 8px 9px,#fce4da 9px 10px,#fcdacc 10px 11px,#fbc9b5 11px 12px,#fcccb9 12px 13px,#fcc9b5 13px 14px,#fcccb8 14px 15px,#fbc1aa 15px 16px,#fcd9cb 16px 17px,#fcdacc 17px 20px,#fcd3c3 20px 22px,#fcd2c1 22px 23px,#fcddd0 23px 24px,#fcd6c6 24px 25px,#fccab6 25px 26px,#fcd1c0 26px 27px,#fcdbcd 27px 28px,#fce0d4 28px 29px,#fce1d5 29px 30px,#fcdfd2 30px 31px,#fce0d4 31px 32px,#fce1d6 32px 33px,#fcd2c1 33px 34px,#fcd9ca 34px 35px,#fce5dd 35px 36px,#fce6dd 36px 37px,#fcdbcd 37px 38px,#fce4da 38px 39px,#fcdfd3 39px 40px,#fcd6c6 40px 41px,#fcc9b5 41px 42px,#fbc6b2 42px 43px,#faa78a 43px 44px,#faa385 44px 45px,#fbb89e 45px 46px,#fbb499 46px 47px,#fbbba3 47px 48px,#fbb9a0 48px 49px,#faa98c 49px 50px,#faa386 50px 51px,#faa98c 51px 53px,#fbae92 53px 54px,#fbb093 54px 55px,#faa88a 55px 56px,#fbb499 56px 57px,#fbbda5 57px 58px,#fbbea6 58px 59px,#faa385 59px 60px,#f99171 60px 61px,#fbb093 61px 62px,#f9997a 62px 63px,#faa587 63px 64px,#f99879 64px 65px,#fbb296 65px 66px,#f9997a 66px 67px,#fbb296 67px 68px,#fbb79d 68px 69px,#f99b7c 69px 70px,#f99777 70px 71px,#f88c6c 71px 72px,#f99171 72px 73px,#fa9d7e 73px 74px,#f99778 74px 75px,#fa9f81 75px 76px,#faaa8d 76px 77px,#fbb398 77px 78px,#fbb59a 78px 80px,#faa789 80px 81px,#fbb89d 81px 82px,#fbb397 82px 83px,#f99a7b 83px 84px,#f99c7d 84px 85px,#f99576 85px 86px,#f98e6e 86px 87px,#faa588 87px 88px,#fbbda5 88px 89px,#fbb99f 89px 90px,#fbb9a0 90px 91px,#fa9c7d 91px 92px,#fbb094 92px 93px,#f99677 93px 94px,#f99273 94px 95px,#f9997a 95px 96px,#faa487 96px 97px,#fbb499 97px 98px,#fbb195 98px 99px,#fbb398 99px 100px,#faa284 100px 101px,#fbb498 101px 102px,#fbb195 102px 103px,#f99b7d 103px 104px,#f99b7c 104px 105px,#faa98c 105px 106px,#fbaf93 106px 107px,#faa88b 107px 108px,#fbb094 108px 109px,#faa98c 109px 110px,#fbae92 110px 111px,#faa98c 111px 112px,#fbc4ae 112px 113px,#faa689 113px 114px,#faa284 114px 115px,#f99374 115px 116px,#fbb69b 116px 117px,#faa688 117px 118px,#fbb79d 118px 119px,#faa082 119px 120px,#f99879 120px 121px,#faa78a 121px 122px,#fbb79d 122px 123px,#fbbda5 123px 124px,#fbab8e 124px 125px,#af98df 125px 126px,#ae95de 126px 127px,#a88fdb 127px 128px,#b19ae1 128px 129px,#ab92dc 129px 130px,#ae95de 130px 131px,#9b7ed2 131px 132px,#9c7fd3 132px 133px,#a78cda 133px 134px,#a78dda 134px 135px,#b19ae1 135px 136px,#a58ad9 136px 137px,#a88fdb 137px 138px,#a185d6 138px 139px,#b8a2e3 139px 140px,#ac93dd 140px 141px,#b099e0 141px 142px,#b7a2e3 142px 143px,#ae95de 143px 144px,#aa91dc 144px 145px,#ad94de 145px 146px,#b49de2 146px 147px,#b19ae0 147px 148px,#b098df 148px 149px,#b39ce1 149px 150px,#a98fdb 150px 151px,#ad94de 151px 152px,#ccbbeb 152px 153px,#a286d6 153px 154px,#9a7cd1 154px 155px,#a287d7 155px 156px,#a58ad8 156px 157px,#ae96de 157px 158px,#9f82d4 158px 159px,#ab92dc 159px 160px,#a78dda 160px 161px,#bba6e5 161px 162px,#aa90db 162px 163px,#a185d6 163px 164px,#a78dda 164px 165px,#9f82d4 165px 166px,#a084d5 166px 167px,#a58ad8 167px 168px,#a489d8 168px 169px,#ae96de 169px 170px,#b099e0 170px 171px,#ac93dd 171px 172px,#b19ae1 172px 173px,#ac93dd 173px 174px,#aa91dc 174px 175px,#a68cd9 175px 176px,#b49de2 176px 177px,#aa91dc 177px 178px,#a990db 178px 179px,#b199e0 179px 180px,#ab92dc 180px 181px,#b8a2e3 181px 182px,#cab9eb 182px 183px,#c4b1e8 183px 184px,#c0ace7 184px 185px,#bda9e5 185px 186px,#c7b5e9 186px 187px,#c4b1e8 187px 188px,#c3b0e8 188px 189px,#b59ee2 189px 190px,#b39ce1 190px 192px,#a083d5 192px 193px,#ac93dd 193px 194px,#b7a1e3 194px 195px,#a990db 195px 196px,#b099e0 196px 197px,#bca8e5 197px 198px,#ae96de 198px 199px,#ac93dd 199px 200px,#9e82d4 200px 201px,#e3d7f4 201px 202px,#ede4f7 202px 203px,#f1eaf9 203px 204px,#efe7f8 204px 205px,#e5d9f4 205px 206px,#e7ddf5 206px 207px,#efe6f8 207px 208px,#f3ecf9 208px 209px,#f0e8f8 209px 210px,#f2ebf9 210px 211px,#fcf3f4 211px 212px,#ede4f7 212px 213px,#ddcff2 213px 214px,#e0d2f3 214px 215px,#efe7f8 215px 216px,#ddcff2 216px 217px,#d5c6ef 217px 218px,#e8def6 218px 219px,#ede4f7 219px 220px,#f1eaf9 220px 221px,#f5eefa 221px 222px,#e6dbf5 222px 223px,#f2eaf9 223px 224px,#daccf1 224px 225px,#e5daf5 225px 226px,#e2d5f4 226px 227px)"></div>
<div style="position:absolute;left:271.87px;top:181.0px;width:29.03px;height:227px;background:linear-gradient(#fbc4ae 0px 2px,#fcd7c8 2px 3px,#fcdbcd 3px 4px,#fccab7 4px 5px,#fce0d4 5px 6px,#fce7e0 6px 7px,#fceae5 7px 8px,#fce9e2 8px 9px,#fce8e1 9px 10px,#fcdacc 10px 11px,#fce2d8 11px 12px,#fcd3c2 12px 13px,#fbc5b0 13px 14px,#fbb9a0 14px 15px,#fbbfa8 15px 16px,#fcd3c2 16px 17px,#fcdbce 17px 18px,#fcd7c8 18px 19px,#fceae4 19px 20px,#fcd8ca 20px 21px,#fcd9cb 21px 22px,#fcd6c7 22px 23px,#fccfbd 23px 24px,#fce5dc 24px 25px,#fce2d8 25px 26px,#fce6de 26px 27px,#fcd6c6 27px 28px,#fcd8c9 28px 29px,#fcd3c3 29px 30px,#fbbba2 30px 31px,#fbb296 31px 32px,#fccebc 32px 34px,#fce0d5 34px 35px,#fceae5 35px 36px,#fce4da 36px 37px,#fccbb7 37px 38px,#fbc4af 38px 39px,#fcdbcd 39px 40px,#fcd8ca 40px 41px,#fcc9b5 41px 42px,#fbc1aa 42px 43px,#faab8e 43px 44px,#fbb297 44px 45px,#faa689 45px 46px,#f99a7b 46px 47px,#faa88b 47px 48px,#fa9e80 48px 49px,#faaa8d 49px 50px,#fbaf93 50px 51px,#f99777 51px 52px,#fbb99f 52px 53px,#fbbca3 53px 54px,#fbc7b2 54px 55px,#fbbfa7 55px 56px,#fbc6b1 56px 57px,#fbc2ac 57px 58px,#fbbaa0 58px 59px,#faa88b 59px 60px,#faa689 60px 61px,#faa98c 61px 62px,#f99475 62px 63px,#fbb094 63px 64px,#faa789 64px 65px,#faa688 65px 66px,#f99778 66px 67px,#faaa8d 67px 68px,#fbb397 68px 69px,#fbb89e 69px 70px,#faa78a 70px 71px,#f99171 71px 72px,#f99576 72px 73px,#f98f6f 73px 74px,#f88c6c 74px 75px,#f88766 75px 76px,#f99a7c 76px 77px,#f99374 77px 78px,#f99273 78px 79px,#fa9e80 79px 80px,#f99373 80px 81px,#faa183 81px 82px,#faa688 82px 83px,#f88665 83px 84px,#fbb195 84px 85px,#faa284 85px 86px,#fa9f81 86px 87px,#faa183 87px 88px,#faaa8d 88px 89px,#faa284 89px 90px,#faa689 90px 91px,#f99a7b 91px 92px,#fbab8e 92px 93px,#faa182 93px 94px,#f99474 94px 95px,#fa9d7f 95px 96px,#faa88a 96px 97px,#faa082 97px 98px,#fa9d7e 98px 99px,#faa587 99px 100px,#faa183 100px 101px,#fbbda5 101px 102px,#fbb094 102px 103px,#fbb296 103px 104px,#fbac8f 104px 105px,#f99575 105px 106px,#faa284 106px 107px,#f99879 107px 108px,#f99778 108px 109px,#f99a7b 109px 110px,#fa9f80 110px 111px,#f88766 111px 112px,#f98f6f 112px 113px,#f88a69 113px 114px,#faa285 114px 115px,#f99474 115px 116px,#faaa8d 116px 117px,#faa183 117px 118px,#fbbaa1 118px 119px,#faa284 119px 120px,#f98e6e 120px 121px,#f9997b 121px 122px,#fa9e80 122px 123px,#fbac8f 123px 124px,#f99677 124px 125px,#b39ce1 125px 126px,#c2aee7 126px 127px,#ab92dc 127px 128px,#bba6e5 128px 129px,#b59fe2 129px 130px,#b29ae1 130px 131px,#9778cf 131px 132px,#ab91dc 132px 133px,#a68bd9 133px 134px,#b098e0 134px 135px,#ae96de 135px 136px,#a58ad8 136px 137px,#a185d6 137px 138px,#a88edb 138px 139px,#c3afe7 139px 140px,#b098df 140px 141px,#c0ace6 141px 142px,#b29ce1 142px 143px,#b099e0 143px 144px,#a78dda 144px 145px,#a489d8 145px 147px,#b7a2e3 147px 148px,#b6a0e3 148px 149px,#c2afe7 149px 150px,#ab91dc 150px 151px,#a98fdb 151px 152px,#beaae6 152px 153px,#ae96de 153px 154px,#b29be1 154px 155px,#ad94de 155px 156px,#a68cd9 156px 157px,#b59fe2 157px 158px,#b29be1 158px 159px,#aa91dc 159px 160px,#a388d7 160px 161px,#b49ee2 161px 162px,#9474cd 162px 163px,#a58ad8 163px 165px,#9e81d4 165px 166px,#a98fdb 166px 168px,#b29be1 168px 169px,#b49ee2 169px 170px,#b7a1e3 170px 171px,#c1ade7 171px 172px,#b59ee2 172px 173px,#b199e0 173px 174px,#b099e0 174px 175px,#aa90dc 175px 176px,#a185d6 176px 177px,#9d80d3 177px 178px,#a88eda 178px 179px,#af97df 179px 180px,#a88eda 180px 181px,#b39de2 181px 182px,#c0ace6 182px 183px,#ac94dd 183px 184px,#b6a0e3 184px 186px,#bba6e5 186px 187px,#b19ae1 187px 188px,#d4c5ee 188px 189px,#b099e0 189px 190px,#b49de2 190px 191px,#a58bd9 191px 192px,#8e6dc9 192px 193px,#b39de2 193px 194px,#b8a3e3 194px 195px,#a286d6 195px 196px,#b7a2e3 196px 197px,#b199e0 197px 198px,#ae96de 198px 199px,#ab93dd 199px 200px,#aa91dc 200px 201px,#e1d5f3 201px 202px,#ece3f7 202px 203px,#e3d7f4 203px 204px,#d8c9f0 204px 205px,#c1ade7 205px 206px,#c9b7ea 206px 207px,#dfd2f3 207px 208px,#eee6f8 208px 209px,#f2eaf9 209px 210px,#f2ebf9 210px 211px,#f5effa 211px 212px,#ece3f7 212px 213px,#e1d5f3 213px 214px,#efe7f8 214px 215px,#ebe1f6 215px 216px,#e5d9f4 216px 217px,#d2c2ed 217px 218px,#e2d6f4 218px 219px,#d8caf0 219px 220px,#bfabe6 220px 221px,#d4c5ee 221px 222px,#dfd2f3 222px 223px,#ece2f7 223px 224px,#e8def6 224px 225px,#e8ddf6 225px 226px,#e3d6f4 226px 227px)"></div>
<div style="position:absolute;left:300.60px;top:181.0px;width:29.03px;height:227px;background:linear-gradient(#fbac8f 0px 1px,#fbad90 1px 2px,#fbbda5 2px 3px,#f99778 3px 4px,#fbbca4 4px 5px,#fbb499 5px 6px,#fbb59a 6px 7px,#faa285 7px 8px,#fbb59a 8px 9px,#fbc4ae 9px 10px,#fbc9b4 10px 11px,#fce1d5 11px 12px,#fbbfa7 12px 13px,#fbbda4 13px 14px,#fbc5b0 14px 15px,#fcd5c5 15px 16px,#fbc5b0 16px 17px,#fbc1aa 17px 18px,#fbbda5 18px 19px,#fbc8b4 19px 20px,#fbbca3 20px 21px,#fcc9b5 21px 22px,#fcded1 22px 23px,#fccab7 23px 24px,#fcd4c4 24px 25px,#fbc8b4 25px 26px,#fbc6b1 26px 27px,#fcccba 27px 28px,#fbbda5 28px 29px,#fbb59b 29px 30px,#fbc0a9 30px 31px,#faaa8d 31px 32px,#f99272 32px 33px,#fbbba2 33px 34px,#faa588 34px 35px,#fbbba2 35px 36px,#fbc1aa 36px 37px,#fbb397 37px 38px,#faa284 38px 39px,#fbc7b3 39px 40px,#fccdba 40px 41px,#fbab8e 41px 42px,#faaa8d 42px 43px,#fbad90 43px 44px,#faa587 44px 45px,#fbac90 45px 46px,#faaa8d 46px 47px,#fbb69b 47px 48px,#fbbba2 48px 49px,#fbb59a 49px 50px,#fbc4ae 50px 51px,#fbbda5 51px 52px,#fcd4c4 52px 53px,#fbbfa7 53px 54px,#fbc3ad 54px 55px,#fbae91 55px 56px,#f99778 56px 57px,#faa78a 57px 58px,#fbb79d 58px 59px,#fbc4ae 59px 60px,#fbc1aa 60px 61px,#fbbfa8 61px 62px,#fbb398 62px 63px,#faa98c 63px 64px,#faa88b 64px 65px,#fbc4ae 65px 66px,#fbb89e 66px 67px,#fbb69b 67px 68px,#fbb094 68px 69px,#fbb397 69px 70px,#fbb498 70px 71px,#fbb89e 71px 72px,#fbb59a 72px 73px,#faa78a 73px 74px,#fbb499 74px 75px,#fbac90 75px 76px,#fbbca3 76px 77px,#fcc9b5 77px 78px,#fbbba2 78px 79px,#fbb69b 79px 80px,#fbaf92 80px 81px,#fbb094 81px 82px,#fbb195 82px 83px,#fbc3ad 83px 84px,#fbb093 84px 85px,#fbbda4 85px 86px,#fbb59a 86px 87px,#faa88b 87px 88px,#faaa8d 88px 89px,#faa183 89px 90px,#faa98c 90px 91px,#fbb59b 91px 92px,#fccebc 92px 93px,#fbb99f 93px 94px,#fbb89e 94px 95px,#fbb195 95px 96px,#fbb69c 96px 97px,#fccab6 97px 98px,#fbbea6 98px 99px,#fbbca3 99px 100px,#fbb79d 100px 101px,#fbb599 101px 102px,#fbbba3 102px 103px,#fbb89e 103px 104px,#fbb498 104px 105px,#fbb499 105px 106px,#fbb69b 106px 107px,#fbad90 107px 108px,#fbb296 108px 109px,#fa9e80 109px 110px,#fbb59b 110px 111px,#fbb89e 111px 112px,#fbb498 112px 113px,#fbb69c 113px 114px,#fbb397 114px 115px,#faa78a 115px 116px,#fbbaa1 116px 117px,#faa98c 117px 118px,#fbc0a9 118px 119px,#fbbca4 119px 120px,#fbc5af 120px 121px,#fbc8b3 121px 122px,#fbc6b1 122px 123px,#fccab6 123px 124px,#fbbaa0 124px 125px,#bca8e5 125px 126px,#bba7e5 126px 127px,#c7b4e9 127px 128px,#c9b7ea 128px 129px,#beaae6 129px 130px,#c4b1e8 130px 131px,#cbb9eb 131px 132px,#baa5e4 132px 133px,#b6a0e3 133px 134px,#ddcff2 134px 135px,#dbcdf1 135px 136px,#c9b8ea 136px 137px,#c8b6ea 137px 138px,#d9cbf0 138px 139px,#cebeec 139px 140px,#c5b2e8 140px 141px,#c1ade7 141px 142px,#bba6e5 142px 143px,#b69fe2 143px 144px,#b29be1 144px 145px,#b098e0 145px 146px,#b49ee2 146px 147px,#b49de2 147px 148px,#ad94de 148px 149px,#b19ae1 149px 150px,#a78dda 150px 151px,#b099e0 151px 152px,#b7a2e3 152px 153px,#b8a3e3 153px 154px,#c0ace6 154px 155px,#c6b4e9 155px 156px,#b9a4e4 156px 157px,#baa4e4 157px 158px,#c8b6ea 158px 159px,#dfd1f3 159px 160px,#e8def6 160px 161px,#ccbbeb 161px 162px,#c1ade7 162px 163px,#ad94de 163px 164px,#cab8ea 164px 165px,#baa5e4 165px 166px,#cab9eb 166px 167px,#d9cbf0 167px 168px,#c4b1e8 168px 169px,#cebdec 169px 170px,#d9cbf0 170px 171px,#b59fe2 171px 172px,#b9a4e4 172px 173px,#c4b0e8 173px 174px,#bfabe6 174px 175px,#cdbcec 175px 176px,#cfbeec 176px 177px,#c1aee7 177px 178px,#d5c6ef 178px 179px,#d9cbf0 179px 180px,#ded1f2 180px 181px,#d7c8f0 181px 182px,#ccbbeb 182px 183px,#cdbceb 183px 184px,#d1c0ed 184px 185px,#d2c2ed 185px 186px,#ddd0f2 186px 187px,#d8c9f0 187px 188px,#bca7e5 188px 189px,#b7a1e3 189px 190px,#b39ce1 190px 191px,#a68cd9 191px 192px,#c6b4e9 192px 193px,#c9b7ea 193px 194px,#ccbbeb 194px 195px,#c1aee7 195px 196px,#d6c7ef 196px 197px,#c6b4e9 197px 198px,#b6a0e3 198px 199px,#bba6e5 199px 200px,#c0ace6 200px 201px,#e8def6 201px 202px,#f1e9f8 202px 203px,#e5daf5 203px 205px,#efe6f8 205px 206px,#e3d6f4 206px 207px,#e3d7f4 207px 208px,#e6daf5 208px 209px,#dccef1 209px 210px,#ede4f7 210px 211px,#e6dbf5 211px 212px,#e7ddf5 212px 213px,#e7dcf5 213px 214px,#f2eaf9 214px 215px,#dccff2 215px 216px,#e9dff6 216px 217px,#e7ddf5 217px 218px,#f7f1fa 218px 219px,#e9dff6 219px 220px,#eae0f6 220px 221px,#e9dff6 221px 222px,#f5effa 222px 223px,#faf6fb 223px 224px,#dfd2f3 224px 225px,#d9cbf0 225px 226px,#e5daf5 226px 227px)"></div>
<div style="position:absolute;left:329.33px;top:181.0px;width:29.03px;height:227px;background:linear-gradient(#dfd1f2 0px 1px,#e5d9f5 1px 2px,#fcd3c3 2px 3px,#fcd1c0 3px 4px,#fbb9a0 4px 5px,#fbc5af 5px 6px,#fbb59b 6px 7px,#fbc2ac 7px 8px,#fbbca4 8px 9px,#e8ddf5 9px 10px,#fccbb8 10px 11px,#fbc8b3 11px 12px,#fccbb7 12px 13px,#fbc1ab 13px 14px,#fcd7c8 14px 15px,#fcc9b5 15px 16px,#f5effa 16px 17px,#fbb094 17px 18px,#fbbaa1 18px 19px,#e6dbf5 19px 20px,#fccbb8 20px 21px,#fbb99f 21px 22px,#ece2f7 22px 23px,#fbc6b1 23px 24px,#fcc9b6 24px 25px,#fcd9cb 25px 26px,#e4d9f4 26px 27px,#e2d6f4 27px 28px,#fcd9ca 28px 29px,#fcd0be 29px 30px,#fbc6b0 30px 31px,#e2d6f4 31px 32px,#e7ddf5 32px 33px,#fcdacc 33px 34px,#daccf1 34px 35px,#fcccb9 35px 36px,#fcd1c0 36px 37px,#fcd0bf 37px 38px,#fbc6b1 38px 39px,#e7ddf5 39px 40px,#e4d8f4 40px 41px,#fcc9b5 41px 42px,#fbc8b4 42px 43px,#fbc6b0 43px 44px,#fbaf93 44px 45px,#fbb59a 45px 46px,#fbb79d 46px 47px,#fbc8b4 47px 48px,#fbc3ad 48px 49px,#fbb89f 49px 50px,#fccdba 50px 51px,#fcc9b6 51px 52px,#fce2d7 52px 53px,#fcded1 53px 54px,#fcd2c1 54px 55px,#fbc8b4 55px 56px,#fbb59b 56px 57px,#fcdbcd 57px 58px,#fcd6c6 58px 59px,#fcddd1 59px 60px,#fcddd0 60px 61px,#fcd7c9 61px 62px,#fcd5c6 62px 63px,#fccebc 63px 64px,#fcd2c1 64px 65px,#fcd0bf 65px 66px,#fcd1c0 66px 67px,#fbc5b0 67px 68px,#fcd0be 68px 69px,#fcccb9 69px 70px,#fbc8b3 70px 71px,#fcd0be 71px 72px,#fbb99f 72px 73px,#fbbfa7 73px 74px,#fcd2c1 74px 75px,#fbc6b2 75px 76px,#fbc8b4 76px 77px,#fcdccf 77px 78px,#fcc9b5 78px 79px,#fccab7 79px 80px,#fccbb7 80px 81px,#fccfbd 81px 82px,#fcd2c2 82px 83px,#fccfbd 83px 84px,#fbc5b0 84px 85px,#fccdba 85px 86px,#fccebb 86px 87px,#fcccb9 87px 88px,#fbc9b5 88px 89px,#fbbfa7 89px 90px,#fbc2ac 90px 91px,#fbc2ab 91px 92px,#fcded2 92px 93px,#fcd4c3 93px 94px,#fcd0bf 94px 95px,#fbbba2 95px 96px,#fbc7b2 96px 97px,#fcd1c0 97px 98px,#fcd2c1 98px 99px,#fccdbb 99px 100px,#fbc7b3 100px 101px,#fbc4ae 101px 102px,#fcd9ca 102px 103px,#fbc1ab 103px 104px,#fcd4c4 104px 105px,#fcd2c2 105px 106px,#fccbb8 106px 107px,#fccfbd 107px 108px,#fbb59a 108px 109px,#faa588 109px 110px,#fbc0a9 110px 111px,#fccdba 111px 112px,#fccbb7 112px 113px,#fcd4c4 113px 114px,#fccab6 114px 115px,#fbc6b1 115px 116px,#fbc2ac 116px 117px,#fbb9a0 117px 118px,#fccebc 118px 119px,#fbb9a0 119px 120px,#fbc0a9 120px 121px,#fbc2ab 121px 122px,#fccab6 122px 123px,#fcd1c0 123px 124px,#fcd3c3 124px 125px,#ccbbeb 125px 126px,#d1c1ed 126px 127px,#e3d7f4 127px 128px,#e0d4f3 128px 129px,#e2d6f4 129px 130px,#dbcdf1 130px 131px,#f0e8f8 131px 132px,#e3d7f4 132px 133px,#dbcdf1 133px 134px,#dfd2f3 134px 135px,#e3d7f4 135px 136px,#fce2d7 136px 138px,#daccf1 138px 139px,#e1d5f3 139px 140px,#d8c9f0 140px 141px,#d9caf0 141px 142px,#c5b3e9 142px 143px,#d5c6ef 143px 144px,#d6c7ef 144px 145px,#e7ddf5 145px 146px,#e0d3f3 146px 147px,#d8c9f0 147px 149px,#d2c2ee 149px 150px,#e2d5f3 150px 151px,#e0d3f3 151px 152px,#dfd1f3 152px 153px,#e3d7f4 153px 154px,#dacbf1 154px 155px,#eee6f8 155px 156px,#f0e8f8 156px 157px,#e8def6 157px 158px,#e2d6f4 158px 159px,#e6dbf5 159px 160px,#ede4f7 160px 161px,#dfd1f2 161px 162px,#d6c7ef 162px 163px,#c0ace7 163px 164px,#cebeec 164px 165px,#cbbaeb 165px 166px,#d7c9f0 166px 167px,#ded0f2 167px 168px,#fcebe7 168px 169px,#d5c5ef 169px 170px,#c1ade7 170px 171px,#dccff2 171px 172px,#d1c1ed 172px 173px,#d7c8ef 173px 174px,#fce9e3 174px 175px,#e3d7f4 175px 176px,#fcd9ca 176px 177px,#e2d6f4 177px 178px,#e7ddf5 178px 179px,#e6daf5 179px 180px,#ded0f2 180px 181px,#fcebe6 181px 182px,#fce4db 182px 183px,#fcede9 183px 184px,#d9caf0 184px 185px,#e5daf5 185px 186px,#e9dff6 186px 187px,#dfd2f3 187px 188px,#d9caf0 188px 189px,#bda9e5 189px 190px,#d6c7ef 190px 191px,#dacbf0 191px 192px,#dbcdf1 192px 193px,#e4d8f4 193px 194px,#ece2f7 194px 195px,#e1d5f3 195px 196px,#e3d7f4 196px 197px,#e8ddf6 197px 198px,#e6dbf5 198px 199px,#e0d3f3 199px 200px,#e1d4f3 200px 201px,#fce6df 201px 202px,#fce9e3 202px 203px,#fcf0ef 203px 204px,#fce8e2 204px 205px,#fceae5 205px 206px,#fcf0ef 206px 207px,#fceae5 207px 208px,#fce2d7 208px 209px,#fce6de 209px 210px,#fcd9ca 210px 211px,#fcf1f1 211px 212px,#fcebe7 212px 213px,#fce8e2 213px 214px,#fcddd0 214px 215px,#fcedea 215px 216px,#fcece8 216px 217px,#fcf0ef 217px 218px,#fce0d5 218px 219px,#fcdfd3 219px 220px,#fcdacc 220px 221px,#fcefed 221px 222px,#fceae5 222px 223px,#fcccb9 223px 224px,#fcebe7 224px 225px,#fcebe6 225px 226px,#fce6df 226px 227px)"></div>
<div style="position:absolute;left:358.07px;top:181.0px;width:29.03px;height:227px;background:linear-gradient(#fccab6 0px 1px,#fbc5b0 1px 2px,#fcd5c5 2px 3px,#fbc7b2 3px 4px,#fcddd0 4px 6px,#fccdba 6px 7px,#fbc1aa 7px 8px,#fcdbcd 8px 9px,#fcdfd3 9px 10px,#fcd4c4 10px 11px,#fce1d5 11px 12px,#fcd4c4 12px 13px,#fce1d6 13px 14px,#fce1d5 14px 15px,#fcddd0 15px 16px,#fce9e2 16px 17px,#fce2d7 17px 18px,#fcd3c3 18px 19px,#fcdacb 19px 20px,#fcd5c6 20px 21px,#fce1d6 21px 22px,#fce0d5 22px 23px,#fcdbcd 23px 24px,#fce2d8 24px 25px,#fcd8c9 25px 26px,#fcded1 26px 27px,#fcd5c5 27px 28px,#fccdbb 28px 29px,#fbbda5 29px 30px,#fcdccf 30px 31px,#fcc9b5 31px 32px,#fbb093 32px 33px,#fce1d6 33px 34px,#fbb89d 34px 35px,#fcc9b6 35px 36px,#fcd8c9 36px 37px,#fcd6c6 37px 38px,#fcd7c8 38px 39px,#fcded1 39px 40px,#fcefed 40px 41px,#fccebc 41px 42px,#fbbca3 42px 43px,#fbab8f 43px 44px,#fbb093 44px 45px,#fbb69c 45px 46px,#fbbaa0 46px 47px,#fccdba 47px 48px,#fbbea7 48px 49px,#fbb99f 49px 50px,#fbc6b1 50px 51px,#fcd0be 51px 52px,#fce4da 52px 53px,#fcd8c9 53px 54px,#fcd1bf 54px 55px,#fbc3ac 55px 56px,#fbb094 56px 57px,#fbb79d 57px 58px,#fcd0be 58px 59px,#fcd7c8 59px 60px,#fcd1bf 60px 61px,#fbc5af 61px 62px,#fbbba2 62px 63px,#fbb397 63px 64px,#fbc2ac 64px 65px,#fccfbd 65px 66px,#fbc6b2 66px 67px,#fbc4ae 67px 68px,#fbc5b0 68px 69px,#fbc1aa 69px 70px,#fbbca3 70px 71px,#fbc3ad 71px 72px,#faaa8d 72px 73px,#fbbca4 73px 75px,#fbc0a9 75px 76px,#fbb9a0 76px 77px,#fccfbe 77px 78px,#fbc6b1 78px 79px,#fbc5b0 79px 80px,#fbb9a0 80px 81px,#fcccb9 81px 82px,#fbc4ae 82px 83px,#fcd2c1 83px 84px,#fbbea7 84px 85px,#fbc2ac 85px 86px,#fccdba 86px 87px,#fbbda5 87px 88px,#fcd5c5 88px 89px,#fbb89d 89px 90px,#fbc0a9 90px 91px,#fccdba 91px 92px,#fcd0bf 92px 93px,#fcccb9 93px 95px,#fbb195 95px 96px,#fbbba2 96px 97px,#fbbaa1 97px 98px,#fbb398 98px 99px,#fbc4ae 99px 100px,#fbc5af 100px 101px,#fbb59a 101px 102px,#fbb398 102px 103px,#fbb093 103px 104px,#fbb9a0 104px 105px,#fbc5af 105px 106px,#fbbba2 106px 107px,#fbbfa8 107px 108px,#fbbda5 108px 109px,#faa78a 109px 110px,#fbb99f 110px 111px,#fbb59b 111px 112px,#fbc5b0 112px 113px,#fcd0bf 113px 114px,#fcd0be 114px 115px,#fbc4af 115px 116px,#fbc7b2 116px 117px,#fbbfa7 117px 118px,#fbc6b1 118px 119px,#fbbca3 119px 120px,#fcd2c1 120px 121px,#fcd1c0 121px 122px,#fccab6 122px 123px,#fbc7b2 123px 124px,#fbbca3 124px 125px,#d7c8ef 125px 126px,#dccef2 126px 127px,#fce7e0 127px 128px,#fcf0ee 128px 129px,#e6dbf5 129px 130px,#d8caf0 130px 131px,#cab8ea 131px 132px,#d3c3ee 132px 133px,#e0d2f3 133px 134px,#fce7e0 134px 135px,#cebdec 135px 136px,#c5b3e9 136px 137px,#cbb9eb 137px 138px,#dccff2 138px 139px,#e1d4f3 139px 140px,#dccef2 140px 141px,#e7dcf5 141px 142px,#fcdfd2 142px 143px,#e9dff6 143px 144px,#fce7df 144px 145px,#dacbf1 145px 146px,#dbcdf1 146px 147px,#e0d2f3 147px 148px,#dccef2 148px 149px,#fcf1f0 149px 150px,#fceae5 150px 151px,#fcdcce 151px 152px,#f5eefa 152px 153px,#eee5f7 153px 154px,#ebe1f6 154px 155px,#fcd2c1 155px 156px,#f1eaf9 156px 157px,#ece3f7 157px 158px,#ebe2f7 158px 159px,#d7c8f0 159px 160px,#ddd0f2 160px 161px,#fce9e3 161px 162px,#ded1f2 162px 163px,#c6b4e9 163px 164px,#d3c3ee 164px 165px,#c9b7ea 165px 166px,#cdbcec 166px 167px,#daccf1 167px 168px,#e0d3f3 168px 169px,#c7b4e9 169px 170px,#c8b5e9 170px 171px,#d9cbf0 171px 172px,#e2d5f4 172px 173px,#cbb9eb 173px 174px,#e5daf5 174px 175px,#dccff2 175px 176px,#e1d5f3 176px 177px,#ddcff2 177px 178px,#e0d3f3 178px 179px,#d3c3ee 179px 180px,#d9cbf0 180px 181px,#fce1d6 181px 182px,#e1d5f3 182px 183px,#d8caf0 183px 184px,#cfbeec 184px 185px,#fcf1f0 185px 186px,#d9caf0 186px 187px,#d5c5ef 187px 188px,#e2d5f4 188px 189px,#e5daf5 189px 190px,#dfd2f3 190px 191px,#e2d5f4 191px 192px,#e0d3f3 192px 193px,#d5c6ef 193px 194px,#d8c9f0 194px 195px,#dfd2f3 195px 196px,#dacbf0 196px 197px,#d0c0ed 197px 198px,#ddcff2 198px 199px,#dccef1 199px 200px,#f0e8f8 200px 201px,#f6f0fa 201px 202px,#f8f3fb 202px 203px,#f5effa 203px 204px,#fcf8fc 204px 205px,#faf5fb 205px 206px,#efe7f8 206px 207px,#f8f3fb 207px 208px,#f9f4fb 208px 209px,#ebe2f7 209px 210px,#f2ebf9 210px 211px,#f0e8f8 211px 212px,#f5effa 212px 214px,#f1e9f8 214px 215px,#f1eaf9 215px 216px,#f6f0fa 216px 217px,#f3ecf9 217px 218px,#faf6fb 218px 219px,#fcf6f9 219px 220px,#fcf6f8 220px 221px,#faf5fb 221px 222px,#fbf7fc 222px 223px,#fcf3f4 223px 224px,#e7dcf5 224px 225px,#eee5f7 225px 226px,#f6f0fa 226px 227px)"></div>
<svg width="685" height="889" viewBox="0 0 685 889">
<text x="13.2" y="10.9" font-size="19.5" font-weight="bold" fill="#000">a</text>
<text x="80" y="41.2" font-size="12.7" fill="#1a1a1a">MSC</text>
<path d="M67.1,57.1 Q87.6,67.2 111.8,48.6 Q100.1,62.8 123.2,52.3 Q106.5,67.0 131.8,70.5 Q114.3,73.2 133.6,78.2 Q102.9,76.2 122.6,89.5 Q94.0,69.8 71.5,98.2 Q79.8,80.8 60.2,83.5 Q79.6,75.2 55.0,70.2 Q77.4,64.8 67.1,57.1 Z" fill="#f89b9b" stroke="#ec7e7e" stroke-width="1" stroke-linejoin="round"/>
<path d="M85.9,71 C85.5,66 90,63.2 95,63.2 C100,63.2 106,64 105.8,67.5 C105.6,70.5 101,70.2 97,71.5 C93,72.8 91,76 88,75.4 C86.5,75 86,73 85.9,71 Z" fill="#d65d5d"/>
<path d="M149.2,71.8 C165,59 185,58.3 195,58.3 C210,58.4 220,60.5 230,63.8" fill="none" stroke="#111" stroke-width="1.3"/>
<polygon points="236.6,66.2 230.4,58.3 229.5,64.2 225.6,68.2" fill="#111"/>
<text x="154.6" y="45.7" font-size="12.8" fill="#1a1a1a">Transfection</text>
<text x="261.8" y="41.3" font-size="13.1" fill="#1a1a1a">RNA (200ng)</text>
<rect x="260.6" y="52.1" width="15.2" height="14.6" fill="#c93c9e"/>
<text x="280.2" y="65.3" font-size="12.8" fill="#1a1a1a">ARHGAP36</text>
<circle cx="267.9" cy="81.9" r="7.9" fill="#56b81c"/>
<text x="279.6" y="86.6" font-size="12.8" fill="#1a1a1a">GFP</text>
<path d="M364.2,71.5 C368,62 376,58.5 383,58.3 C388,58.2 392,59.5 396.5,62.3" fill="none" stroke="#111" stroke-width="1.3"/>
<polygon points="402.5,66.5 397.6,56.4 396.2,62.2 391.5,65.1" fill="#111"/>
<path d="M460.8,45.2 V54.1 H484.4 V45.2" fill="none" stroke="#1a1a1a" stroke-width="1.3"/>
<text x="463.0" y="50.8" font-size="16" fill="#1a1a1a">1</text>
<text x="486.3" y="50.8" font-size="16" fill="#1a1a1a">4</text>
<text x="477.8" y="71.8" font-size="12.4" fill="#1a1a1a" text-anchor="middle">Time points (Days)</text>
<text x="477.1" y="86.5" font-size="12.4" fill="#1a1a1a" text-anchor="middle">after transfection</text>
<path d="M552.2,69.1 C555,67.5 559,66.8 565.5,67.1" fill="none" stroke="#111" stroke-width="1.3"/>
<polygon points="572.8,68.4 564.3,61.4 565.2,67.3 562.6,71.6" fill="#111"/>
<text x="588.2" y="72.4" font-size="12" fill="#1a1a1a">RNA-seq</text>
<text x="13.8" y="137.6" font-size="19.5" font-weight="bold" fill="#000">b</text>
<text x="119.3" y="148" font-size="13" fill="#1a1a1a">Day 1</text>
<text x="286.5" y="148" font-size="13" fill="#1a1a1a">Day 4</text>
<rect x="42.00" y="156.2" width="172.40" height="10.8" fill="#41afb7"/>
<rect x="214.40" y="156.2" width="172.40" height="10.8" fill="#4f4fa8"/>
<rect x="42.00" y="167.8" width="86.20" height="10.4" fill="#c93c9e"/>
<rect x="128.20" y="167.8" width="86.20" height="10.4" fill="#56b81c"/>
<rect x="214.40" y="167.8" width="86.20" height="10.4" fill="#c93c9e"/>
<rect x="300.60" y="167.8" width="86.20" height="10.4" fill="#56b81c"/>
<text x="390.6" y="162.4" font-size="13.4" fill="#1a1a1a">Days</text>
<text x="390.6" y="177.8" font-size="13.4" fill="#1a1a1a">RNA</text>
<rect x="389" y="181.3" width="10.7" height="40.3" fill="#2b966a"/>
<text x="404.5" y="206.3" font-size="13.2" fill="#1a1a1a">K1</text>
<rect x="389" y="221.6" width="10.7" height="84.3" fill="#b0302a"/>
<text x="404.5" y="263.4" font-size="13.2" fill="#1a1a1a">K3</text>
<rect x="389" y="305.9" width="10.7" height="76.5" fill="#d3a01c"/>
<text x="404.5" y="344.1" font-size="13.2" fill="#1a1a1a">K4</text>
<rect x="389" y="382.4" width="10.7" height="25.4" fill="#1f6480"/>
<text x="404.5" y="398.9" font-size="13.2" fill="#1a1a1a">K5</text>
<text transform="translate(30.0,285.5) rotate(-90)" font-size="16.9" fill="#1a1a1a" text-anchor="middle">935 genes</text>
<defs><linearGradient id="zg" x1="0" y1="0" x2="0" y2="1"><stop offset="0" stop-color="#d8301a"/><stop offset="0.12" stop-color="#e95a3c"/><stop offset="0.26" stop-color="#fa9878"/><stop offset="0.38" stop-color="#fdcab6"/><stop offset="0.5" stop-color="#ffffff"/><stop offset="0.62" stop-color="#ebdcf6"/><stop offset="0.733" stop-color="#c2a8e8"/><stop offset="0.86" stop-color="#8468c8"/><stop offset="1" stop-color="#3c44a8"/></linearGradient><linearGradient id="og" x1="0" y1="0" x2="0" y2="1"><stop offset="0" stop-color="#3b3a92"/><stop offset="0.2" stop-color="#355f9e"/><stop offset="0.38" stop-color="#3a80aa"/><stop offset="0.5" stop-color="#55b7c6"/><stop offset="0.65" stop-color="#9fdad2"/><stop offset="0.8" stop-color="#d6f0d4"/><stop offset="0.9" stop-color="#eef7d6"/><stop offset="1" stop-color="#fcf6da"/></linearGradient></defs>
<text transform="translate(434.6,296.3) rotate(-90)" font-size="13.4" fill="#1a1a1a" text-anchor="middle">Expression (Z-score)</text>
<rect x="440.7" y="259.9" width="14.2" height="67.5" fill="url(#zg)"/>
<line x1="451.4" y1="261.6" x2="454.9" y2="261.6" stroke="#fff" stroke-opacity="0.8" stroke-width="0.9"/>
<line x1="451.4" y1="277.4" x2="454.9" y2="277.4" stroke="#fff" stroke-opacity="0.8" stroke-width="0.9"/>
<line x1="451.4" y1="293.5" x2="454.9" y2="293.5" stroke="#fff" stroke-opacity="0.8" stroke-width="0.9"/>
<line x1="451.4" y1="309.4" x2="454.9" y2="309.4" stroke="#fff" stroke-opacity="0.8" stroke-width="0.9"/>
<line x1="451.4" y1="324.8" x2="454.9" y2="324.8" stroke="#fff" stroke-opacity="0.8" stroke-width="0.9"/>
<text x="457.5" y="265.9" font-size="11.4" fill="#1a1a1a">2</text>
<text x="457.8" y="281.7" font-size="11.4" fill="#1a1a1a">1</text>
<text x="457.6" y="297.9" font-size="11.4" fill="#1a1a1a">0</text>
<text x="464.8" y="313.2" font-size="11.4" fill="#1a1a1a">1</text>
<text x="464.5" y="329.4" font-size="11.4" fill="#1a1a1a">2</text>
<rect x="530.3" y="136.5" width="13.5" height="12.5" fill="#c93c9e"/>
<text x="547.3" y="148.3" font-size="13.3" fill="#1a1a1a">ARHGAP36</text>
<rect x="629" y="136.5" width="13.5" height="12.5" fill="#56b81c"/>
<text x="645.5" y="148.3" font-size="13.3" fill="#1a1a1a">GFP</text>
<text transform="translate(499.4,292.2) rotate(-90)" font-size="13.5" fill="#1a1a1a" text-anchor="middle">Expression (Z-score)</text>
<rect x="563.4" y="156.0" width="72.3" height="15.4" fill="#fff" stroke="#333" stroke-width="1.1"/>
<text x="598.8" y="167.1" font-size="9" fill="#333" text-anchor="middle">K1</text>
<line x1="522.7" y1="174.1" x2="522.7" y2="216.4" stroke="#333" stroke-width="1.1"/>
<line x1="520.2" y1="209.2" x2="522.7" y2="209.2" stroke="#333" stroke-width="1"/>
<line x1="520.2" y1="201.8" x2="522.7" y2="201.8" stroke="#333" stroke-width="1"/>
<line x1="520.2" y1="194.3" x2="522.7" y2="194.3" stroke="#333" stroke-width="1"/>
<line x1="520.2" y1="186.9" x2="522.7" y2="186.9" stroke="#333" stroke-width="1"/>
<line x1="520.2" y1="179.5" x2="522.7" y2="179.5" stroke="#333" stroke-width="1"/>
<text x="517.6" y="183.3" font-size="10.5" fill="#4d4d4d" text-anchor="end">2</text>
<text x="517.6" y="198.1" font-size="10.5" fill="#4d4d4d" text-anchor="end">0</text>
<text x="517.6" y="213.0" font-size="10.5" fill="#4d4d4d" text-anchor="end">−2</text>
<path d="M526.2,205.9 Q538.4,204.6 542.4,200.6 Q546.4,204.6 558.6,205.9 Q546.4,206.5 542.4,208.4 Q538.4,206.5 526.2,205.9 Z" fill="#e89ad0" fill-opacity="0.45"/>
<path d="M561.4,190.7 Q573.6,189.2 577.6,184.7 Q581.6,189.2 593.8,190.7 Q581.6,191.7 577.6,194.7 Q573.6,191.7 561.4,190.7 Z" fill="#e89ad0" fill-opacity="0.45"/>
<polygon points="542.4,200.0 577.6,186.1 577.6,198.1 542.4,209.4" fill="#c8369c" fill-opacity="0.08"/>
<polygon points="542.4,202.1 577.6,187.8 577.6,195.4 542.4,208.1" fill="#c8369c" fill-opacity="0.11"/>
<polygon points="542.4,204.1 577.6,189.3 577.6,192.9 542.4,206.9" fill="#c8369c" fill-opacity="0.23"/>
<g stroke="#c8369c" stroke-width="0.7" stroke-opacity="0.096" fill="none">
<line x1="542.4" y1="206.0" x2="577.6" y2="190.7"/>
<line x1="542.4" y1="205.9" x2="577.6" y2="186.5"/>
<line x1="542.4" y1="201.7" x2="577.6" y2="186.1"/>
<line x1="542.4" y1="206.6" x2="577.6" y2="190.4"/>
<line x1="542.4" y1="207.6" x2="577.6" y2="193.2"/>
<line x1="542.4" y1="207.4" x2="577.6" y2="194.3"/>
<line x1="542.4" y1="210.3" x2="577.6" y2="197.2"/>
<line x1="542.4" y1="204.5" x2="577.6" y2="193.2"/>
<line x1="542.4" y1="200.9" x2="577.6" y2="185.9"/>
<line x1="542.4" y1="208.0" x2="577.6" y2="196.0"/>
<line x1="542.4" y1="207.0" x2="577.6" y2="195.8"/>
<line x1="542.4" y1="206.7" x2="577.6" y2="187.3"/>
<line x1="542.4" y1="206.9" x2="577.6" y2="195.7"/>
<line x1="542.4" y1="207.6" x2="577.6" y2="196.7"/>
<line x1="542.4" y1="207.0" x2="577.6" y2="193.0"/>
<line x1="542.4" y1="206.0" x2="577.6" y2="195.2"/>
<line x1="542.4" y1="203.6" x2="577.6" y2="190.4"/>
<line x1="542.4" y1="203.5" x2="577.6" y2="185.9"/>
<line x1="542.4" y1="206.5" x2="577.6" y2="193.3"/>
<line x1="542.4" y1="201.9" x2="577.6" y2="187.5"/>
<line x1="542.4" y1="201.9" x2="577.6" y2="186.5"/>
<line x1="542.4" y1="208.3" x2="577.6" y2="199.0"/>
<line x1="542.4" y1="204.9" x2="577.6" y2="188.8"/>
<line x1="542.4" y1="208.2" x2="577.6" y2="193.0"/>
<line x1="542.4" y1="206.9" x2="577.6" y2="191.4"/>
<line x1="542.4" y1="210.5" x2="577.6" y2="200.8"/>
<line x1="542.4" y1="203.3" x2="577.6" y2="186.9"/>
<line x1="542.4" y1="205.6" x2="577.6" y2="187.7"/>
<line x1="542.4" y1="199.2" x2="577.6" y2="188.1"/>
<line x1="542.4" y1="207.2" x2="577.6" y2="195.4"/>
</g>
<path d="M542.4,196.0 Q544.6,205.9 542.4,211.7 Q540.2,205.9 542.4,196.0 Z" fill="#c8369c" fill-opacity="0.35"/>
<ellipse cx="542.4" cy="205.3" rx="1.7" ry="5.7" fill="#c8369c" fill-opacity="0.85"/>
<g fill="#c8369c" fill-opacity="0.45">
<circle cx="542.1" cy="202.6" r="0.9"/>
<circle cx="543.3" cy="206.8" r="0.9"/>
<circle cx="542.3" cy="202.2" r="0.9"/>
<circle cx="542.4" cy="206.5" r="0.9"/>
<circle cx="543.8" cy="207.1" r="0.9"/>
<circle cx="543.5" cy="207.1" r="0.9"/>
<circle cx="541.7" cy="206.1" r="0.9"/>
<circle cx="541.9" cy="210.9" r="0.9"/>
<circle cx="541.6" cy="210.7" r="0.9"/>
<circle cx="541.3" cy="207.0" r="0.9"/>
<circle cx="543.7" cy="207.3" r="0.9"/>
<circle cx="541.2" cy="200.3" r="0.9"/>
<circle cx="542.9" cy="208.0" r="0.9"/>
<circle cx="540.9" cy="207.8" r="0.9"/>
<circle cx="543.1" cy="202.6" r="0.9"/>
<circle cx="543.9" cy="196.1" r="0.9"/>
<circle cx="543.1" cy="203.7" r="0.9"/>
<circle cx="541.8" cy="206.8" r="0.9"/>
<circle cx="542.7" cy="205.2" r="0.9"/>
<circle cx="543.8" cy="204.6" r="0.9"/>
<circle cx="541.9" cy="201.9" r="0.9"/>
<circle cx="543.3" cy="207.3" r="0.9"/>
<circle cx="542.5" cy="206.6" r="0.9"/>
<circle cx="543.7" cy="208.4" r="0.9"/>
<circle cx="543.7" cy="203.5" r="0.9"/>
<circle cx="542.2" cy="206.7" r="0.9"/>
<circle cx="543.3" cy="204.7" r="0.9"/>
<circle cx="541.7" cy="207.1" r="0.9"/>
<circle cx="542.1" cy="204.1" r="0.9"/>
<circle cx="541.3" cy="204.0" r="0.9"/>
<circle cx="543.1" cy="209.8" r="0.9"/>
<circle cx="541.3" cy="211.0" r="0.9"/>
<circle cx="543.7" cy="201.0" r="0.9"/>
<circle cx="541.7" cy="206.0" r="0.9"/>
<circle cx="543.3" cy="208.5" r="0.9"/>
<circle cx="541.3" cy="206.0" r="0.9"/>
</g>
<path d="M577.6,183.1 Q579.8,190.7 577.6,203.0 Q575.4,190.7 577.6,183.1 Z" fill="#c8369c" fill-opacity="0.35"/>
<ellipse cx="577.6" cy="191.4" rx="1.7" ry="7.2" fill="#c8369c" fill-opacity="0.85"/>
<g fill="#c8369c" fill-opacity="0.45">
<circle cx="577.3" cy="194.8" r="0.9"/>
<circle cx="577.4" cy="189.1" r="0.9"/>
<circle cx="577.3" cy="195.4" r="0.9"/>
<circle cx="576.4" cy="195.8" r="0.9"/>
<circle cx="578.8" cy="193.0" r="0.9"/>
<circle cx="577.8" cy="186.3" r="0.9"/>
<circle cx="577.9" cy="190.0" r="0.9"/>
<circle cx="578.7" cy="199.8" r="0.9"/>
<circle cx="576.4" cy="188.1" r="0.9"/>
<circle cx="577.5" cy="193.5" r="0.9"/>
<circle cx="577.8" cy="187.2" r="0.9"/>
<circle cx="578.8" cy="197.3" r="0.9"/>
<circle cx="577.0" cy="190.4" r="0.9"/>
<circle cx="578.1" cy="183.6" r="0.9"/>
<circle cx="577.6" cy="186.2" r="0.9"/>
<circle cx="577.4" cy="190.1" r="0.9"/>
<circle cx="576.5" cy="186.1" r="0.9"/>
<circle cx="577.6" cy="195.8" r="0.9"/>
<circle cx="577.5" cy="188.1" r="0.9"/>
<circle cx="577.0" cy="194.5" r="0.9"/>
<circle cx="577.4" cy="191.4" r="0.9"/>
<circle cx="578.0" cy="188.0" r="0.9"/>
<circle cx="577.2" cy="197.5" r="0.9"/>
<circle cx="577.7" cy="194.0" r="0.9"/>
<circle cx="577.2" cy="193.8" r="0.9"/>
<circle cx="576.9" cy="189.0" r="0.9"/>
<circle cx="576.4" cy="190.0" r="0.9"/>
<circle cx="577.1" cy="192.7" r="0.9"/>
<circle cx="578.0" cy="190.1" r="0.9"/>
<circle cx="576.5" cy="195.6" r="0.9"/>
<circle cx="579.0" cy="191.1" r="0.9"/>
<circle cx="578.7" cy="192.0" r="0.9"/>
<circle cx="578.6" cy="190.4" r="0.9"/>
<circle cx="578.7" cy="188.2" r="0.9"/>
<circle cx="577.7" cy="196.8" r="0.9"/>
<circle cx="577.4" cy="190.2" r="0.9"/>
</g>
<path d="M605.2,192.4 Q613.3,186.4 621.4,180.4 Q629.5,186.4 637.6,192.4 Q629.5,195.9 621.4,199.4 Q613.3,195.9 605.2,192.4 Z" fill="#b8e49a" fill-opacity="0.45"/>
<path d="M640.7,189.1 Q648.8,186.3 656.9,183.6 Q665.0,186.3 673.1,189.1 Q665.0,196.3 656.9,203.6 Q648.8,196.3 640.7,189.1 Z" fill="#b8e49a" fill-opacity="0.45"/>
<g stroke="#58b623" stroke-width="0.7" stroke-opacity="0.072" fill="none">
<line x1="621.4" y1="194.3" x2="656.9" y2="189.2"/>
<line x1="621.4" y1="195.1" x2="656.9" y2="193.3"/>
<line x1="621.4" y1="190.8" x2="656.9" y2="194.7"/>
<line x1="621.4" y1="182.1" x2="656.9" y2="195.3"/>
<line x1="621.4" y1="192.6" x2="656.9" y2="193.8"/>
<line x1="621.4" y1="195.0" x2="656.9" y2="197.9"/>
<line x1="621.4" y1="191.2" x2="656.9" y2="194.4"/>
<line x1="621.4" y1="197.2" x2="656.9" y2="198.4"/>
<line x1="621.4" y1="196.5" x2="656.9" y2="194.1"/>
<line x1="621.4" y1="185.2" x2="656.9" y2="193.0"/>
<line x1="621.4" y1="196.6" x2="656.9" y2="187.3"/>
<line x1="621.4" y1="195.3" x2="656.9" y2="186.1"/>
<line x1="621.4" y1="189.1" x2="656.9" y2="189.7"/>
<line x1="621.4" y1="199.4" x2="656.9" y2="194.7"/>
<line x1="621.4" y1="197.1" x2="656.9" y2="193.0"/>
<line x1="621.4" y1="189.0" x2="656.9" y2="195.9"/>
<line x1="621.4" y1="193.9" x2="656.9" y2="193.6"/>
<line x1="621.4" y1="188.1" x2="656.9" y2="195.7"/>
<line x1="621.4" y1="180.2" x2="656.9" y2="203.4"/>
<line x1="621.4" y1="197.4" x2="656.9" y2="188.3"/>
<line x1="621.4" y1="197.3" x2="656.9" y2="192.8"/>
<line x1="621.4" y1="197.3" x2="656.9" y2="189.8"/>
<line x1="621.4" y1="196.4" x2="656.9" y2="196.0"/>
<line x1="621.4" y1="193.9" x2="656.9" y2="187.1"/>
<line x1="621.4" y1="198.6" x2="656.9" y2="196.6"/>
<line x1="621.4" y1="193.5" x2="656.9" y2="188.4"/>
<line x1="621.4" y1="187.3" x2="656.9" y2="188.6"/>
<line x1="621.4" y1="192.5" x2="656.9" y2="195.6"/>
<line x1="621.4" y1="190.8" x2="656.9" y2="191.3"/>
<line x1="621.4" y1="197.4" x2="656.9" y2="189.1"/>
</g>
<path d="M621.4,180.2 Q623.6,192.4 621.4,199.4 Q619.2,192.4 621.4,180.2 Z" fill="#58b623" fill-opacity="0.35"/>
<ellipse cx="621.4" cy="191.6" rx="1.7" ry="6.9" fill="#58b623" fill-opacity="0.85"/>
<g fill="#58b623" fill-opacity="0.45">
<circle cx="622.9" cy="193.3" r="0.9"/>
<circle cx="622.5" cy="191.5" r="0.9"/>
<circle cx="620.9" cy="194.0" r="0.9"/>
<circle cx="622.0" cy="191.7" r="0.9"/>
<circle cx="620.7" cy="193.6" r="0.9"/>
<circle cx="621.6" cy="188.2" r="0.9"/>
<circle cx="621.0" cy="197.5" r="0.9"/>
<circle cx="620.3" cy="186.6" r="0.9"/>
<circle cx="621.1" cy="192.2" r="0.9"/>
<circle cx="620.7" cy="194.0" r="0.9"/>
<circle cx="620.0" cy="183.6" r="0.9"/>
<circle cx="621.1" cy="195.9" r="0.9"/>
<circle cx="621.6" cy="188.2" r="0.9"/>
<circle cx="622.4" cy="197.7" r="0.9"/>
<circle cx="621.7" cy="190.4" r="0.9"/>
<circle cx="619.9" cy="193.4" r="0.9"/>
<circle cx="621.2" cy="189.1" r="0.9"/>
<circle cx="622.0" cy="192.5" r="0.9"/>
<circle cx="621.7" cy="189.5" r="0.9"/>
<circle cx="622.6" cy="193.5" r="0.9"/>
<circle cx="621.2" cy="193.8" r="0.9"/>
<circle cx="621.2" cy="191.9" r="0.9"/>
<circle cx="622.2" cy="192.8" r="0.9"/>
<circle cx="620.6" cy="184.9" r="0.9"/>
<circle cx="621.8" cy="192.6" r="0.9"/>
<circle cx="620.7" cy="195.2" r="0.9"/>
<circle cx="621.0" cy="196.4" r="0.9"/>
<circle cx="622.0" cy="196.4" r="0.9"/>
<circle cx="621.3" cy="197.6" r="0.9"/>
<circle cx="622.5" cy="191.2" r="0.9"/>
<circle cx="620.3" cy="189.2" r="0.9"/>
<circle cx="622.3" cy="194.4" r="0.9"/>
<circle cx="620.1" cy="184.1" r="0.9"/>
<circle cx="621.1" cy="185.5" r="0.9"/>
<circle cx="622.4" cy="192.6" r="0.9"/>
<circle cx="621.5" cy="194.8" r="0.9"/>
</g>
<path d="M656.9,183.7 Q659.1,193.6 656.9,203.5 Q654.7,193.6 656.9,183.7 Z" fill="#58b623" fill-opacity="0.35"/>
<ellipse cx="656.9" cy="193.6" rx="1.7" ry="7.1" fill="#58b623" fill-opacity="0.85"/>
<g fill="#58b623" fill-opacity="0.45">
<circle cx="657.5" cy="190.2" r="0.9"/>
<circle cx="657.7" cy="197.7" r="0.9"/>
<circle cx="658.1" cy="191.1" r="0.9"/>
<circle cx="657.1" cy="187.2" r="0.9"/>
<circle cx="656.9" cy="193.5" r="0.9"/>
<circle cx="656.3" cy="194.3" r="0.9"/>
<circle cx="658.4" cy="185.4" r="0.9"/>
<circle cx="657.1" cy="186.3" r="0.9"/>
<circle cx="656.3" cy="195.1" r="0.9"/>
<circle cx="656.0" cy="195.7" r="0.9"/>
<circle cx="656.4" cy="195.5" r="0.9"/>
<circle cx="656.5" cy="190.7" r="0.9"/>
<circle cx="657.9" cy="195.3" r="0.9"/>
<circle cx="658.3" cy="199.0" r="0.9"/>
<circle cx="656.3" cy="189.6" r="0.9"/>
<circle cx="656.5" cy="191.5" r="0.9"/>
<circle cx="658.3" cy="198.5" r="0.9"/>
<circle cx="658.1" cy="199.8" r="0.9"/>
<circle cx="657.5" cy="190.0" r="0.9"/>
<circle cx="655.8" cy="199.9" r="0.9"/>
<circle cx="656.0" cy="190.0" r="0.9"/>
<circle cx="658.1" cy="202.1" r="0.9"/>
<circle cx="657.8" cy="193.2" r="0.9"/>
<circle cx="655.5" cy="202.9" r="0.9"/>
<circle cx="656.5" cy="194.3" r="0.9"/>
<circle cx="656.8" cy="198.3" r="0.9"/>
<circle cx="657.9" cy="197.8" r="0.9"/>
<circle cx="655.7" cy="197.9" r="0.9"/>
<circle cx="657.5" cy="190.4" r="0.9"/>
<circle cx="656.3" cy="194.6" r="0.9"/>
<circle cx="657.4" cy="197.1" r="0.9"/>
<circle cx="657.0" cy="189.8" r="0.9"/>
<circle cx="658.4" cy="194.2" r="0.9"/>
<circle cx="656.4" cy="186.9" r="0.9"/>
<circle cx="655.7" cy="196.4" r="0.9"/>
<circle cx="655.9" cy="188.2" r="0.9"/>
</g>
<rect x="563.4" y="219.9" width="72.3" height="15.4" fill="#fff" stroke="#333" stroke-width="1.1"/>
<text x="598.8" y="231.0" font-size="9" fill="#333" text-anchor="middle">K3</text>
<line x1="522.7" y1="236.3" x2="522.7" y2="278.6" stroke="#333" stroke-width="1.1"/>
<line x1="520.2" y1="271.5" x2="522.7" y2="271.5" stroke="#333" stroke-width="1"/>
<line x1="520.2" y1="264.1" x2="522.7" y2="264.1" stroke="#333" stroke-width="1"/>
<line x1="520.2" y1="256.6" x2="522.7" y2="256.6" stroke="#333" stroke-width="1"/>
<line x1="520.2" y1="249.2" x2="522.7" y2="249.2" stroke="#333" stroke-width="1"/>
<line x1="520.2" y1="241.8" x2="522.7" y2="241.8" stroke="#333" stroke-width="1"/>
<text x="517.6" y="245.6" font-size="10.5" fill="#4d4d4d" text-anchor="end">2</text>
<text x="517.6" y="260.4" font-size="10.5" fill="#4d4d4d" text-anchor="end">0</text>
<text x="517.6" y="275.3" font-size="10.5" fill="#4d4d4d" text-anchor="end">−2</text>
<path d="M526.2,267.3 Q538.4,266.6 542.4,264.3 Q546.4,266.6 558.6,267.3 Q546.4,268.1 542.4,270.3 Q538.4,268.1 526.2,267.3 Z" fill="#e89ad0" fill-opacity="0.45"/>
<path d="M561.4,249.2 Q573.6,248.2 577.6,245.2 Q581.6,248.2 593.8,249.2 Q581.6,249.9 577.6,252.2 Q573.6,249.9 561.4,249.2 Z" fill="#e89ad0" fill-opacity="0.45"/>
<polygon points="542.4,263.5 577.6,246.0 577.6,252.7 542.4,270.4" fill="#c8369c" fill-opacity="0.13"/>
<polygon points="542.4,264.9 577.6,247.2 577.6,251.4 542.4,269.3" fill="#c8369c" fill-opacity="0.18"/>
<polygon points="542.4,266.1 577.6,248.2 577.6,250.2 542.4,268.2" fill="#c8369c" fill-opacity="0.38"/>
<g stroke="#c8369c" stroke-width="0.7" stroke-opacity="0.138" fill="none">
<line x1="542.4" y1="270.9" x2="577.6" y2="251.8"/>
<line x1="542.4" y1="268.4" x2="577.6" y2="250.8"/>
<line x1="542.4" y1="268.0" x2="577.6" y2="249.9"/>
<line x1="542.4" y1="265.4" x2="577.6" y2="247.9"/>
<line x1="542.4" y1="265.4" x2="577.6" y2="246.6"/>
<line x1="542.4" y1="270.1" x2="577.6" y2="252.3"/>
<line x1="542.4" y1="265.4" x2="577.6" y2="247.2"/>
<line x1="542.4" y1="264.0" x2="577.6" y2="247.3"/>
<line x1="542.4" y1="270.4" x2="577.6" y2="252.2"/>
<line x1="542.4" y1="264.2" x2="577.6" y2="247.2"/>
<line x1="542.4" y1="267.3" x2="577.6" y2="249.7"/>
<line x1="542.4" y1="264.7" x2="577.6" y2="246.3"/>
<line x1="542.4" y1="267.6" x2="577.6" y2="250.9"/>
<line x1="542.4" y1="269.2" x2="577.6" y2="252.0"/>
<line x1="542.4" y1="264.2" x2="577.6" y2="247.6"/>
<line x1="542.4" y1="266.3" x2="577.6" y2="250.5"/>
<line x1="542.4" y1="268.8" x2="577.6" y2="249.9"/>
<line x1="542.4" y1="265.4" x2="577.6" y2="249.6"/>
<line x1="542.4" y1="270.3" x2="577.6" y2="251.3"/>
<line x1="542.4" y1="268.7" x2="577.6" y2="250.2"/>
<line x1="542.4" y1="260.9" x2="577.6" y2="244.9"/>
<line x1="542.4" y1="263.1" x2="577.6" y2="247.9"/>
<line x1="542.4" y1="267.5" x2="577.6" y2="249.8"/>
<line x1="542.4" y1="271.8" x2="577.6" y2="253.9"/>
<line x1="542.4" y1="269.1" x2="577.6" y2="251.2"/>
<line x1="542.4" y1="263.3" x2="577.6" y2="246.9"/>
<line x1="542.4" y1="267.4" x2="577.6" y2="247.3"/>
<line x1="542.4" y1="265.7" x2="577.6" y2="246.9"/>
<line x1="542.4" y1="268.4" x2="577.6" y2="250.5"/>
<line x1="542.4" y1="269.0" x2="577.6" y2="251.2"/>
</g>
<path d="M542.4,260.9 Q544.6,267.3 542.4,272.5 Q540.2,267.3 542.4,260.9 Z" fill="#c8369c" fill-opacity="0.35"/>
<ellipse cx="542.4" cy="267.1" rx="1.7" ry="4.2" fill="#c8369c" fill-opacity="0.85"/>
<g fill="#c8369c" fill-opacity="0.45">
<circle cx="543.4" cy="261.6" r="0.9"/>
<circle cx="541.2" cy="265.9" r="0.9"/>
<circle cx="543.5" cy="264.2" r="0.9"/>
<circle cx="541.3" cy="267.5" r="0.9"/>
<circle cx="543.7" cy="269.2" r="0.9"/>
<circle cx="541.2" cy="268.7" r="0.9"/>
<circle cx="543.0" cy="268.6" r="0.9"/>
<circle cx="541.7" cy="269.1" r="0.9"/>
<circle cx="543.5" cy="268.7" r="0.9"/>
<circle cx="543.1" cy="271.2" r="0.9"/>
<circle cx="541.8" cy="268.7" r="0.9"/>
<circle cx="542.0" cy="271.0" r="0.9"/>
<circle cx="543.4" cy="262.8" r="0.9"/>
<circle cx="541.9" cy="267.9" r="0.9"/>
<circle cx="542.9" cy="271.1" r="0.9"/>
<circle cx="542.4" cy="265.7" r="0.9"/>
<circle cx="542.1" cy="264.6" r="0.9"/>
<circle cx="542.3" cy="266.0" r="0.9"/>
<circle cx="542.3" cy="267.7" r="0.9"/>
<circle cx="543.7" cy="267.1" r="0.9"/>
<circle cx="541.6" cy="266.6" r="0.9"/>
<circle cx="543.5" cy="266.1" r="0.9"/>
<circle cx="543.5" cy="265.1" r="0.9"/>
<circle cx="541.8" cy="262.5" r="0.9"/>
<circle cx="543.9" cy="262.9" r="0.9"/>
<circle cx="542.5" cy="265.3" r="0.9"/>
<circle cx="541.2" cy="268.6" r="0.9"/>
<circle cx="542.7" cy="270.5" r="0.9"/>
<circle cx="541.6" cy="269.9" r="0.9"/>
<circle cx="542.7" cy="267.7" r="0.9"/>
<circle cx="541.2" cy="269.3" r="0.9"/>
<circle cx="543.3" cy="264.8" r="0.9"/>
<circle cx="543.1" cy="267.5" r="0.9"/>
<circle cx="543.6" cy="270.2" r="0.9"/>
<circle cx="542.8" cy="266.7" r="0.9"/>
<circle cx="543.2" cy="268.4" r="0.9"/>
</g>
<path d="M577.6,243.9 Q579.8,249.2 577.6,255.0 Q575.4,249.2 577.6,243.9 Z" fill="#c8369c" fill-opacity="0.35"/>
<ellipse cx="577.6" cy="249.3" rx="1.7" ry="4.0" fill="#c8369c" fill-opacity="0.85"/>
<g fill="#c8369c" fill-opacity="0.45">
<circle cx="577.4" cy="250.4" r="0.9"/>
<circle cx="579.0" cy="253.5" r="0.9"/>
<circle cx="577.8" cy="249.3" r="0.9"/>
<circle cx="576.4" cy="246.6" r="0.9"/>
<circle cx="578.1" cy="252.1" r="0.9"/>
<circle cx="577.0" cy="249.1" r="0.9"/>
<circle cx="578.0" cy="251.5" r="0.9"/>
<circle cx="576.4" cy="252.7" r="0.9"/>
<circle cx="578.9" cy="250.8" r="0.9"/>
<circle cx="577.8" cy="250.9" r="0.9"/>
<circle cx="576.9" cy="248.6" r="0.9"/>
<circle cx="578.6" cy="246.3" r="0.9"/>
<circle cx="578.5" cy="251.6" r="0.9"/>
<circle cx="577.5" cy="250.1" r="0.9"/>
<circle cx="577.1" cy="251.1" r="0.9"/>
<circle cx="576.9" cy="249.4" r="0.9"/>
<circle cx="576.9" cy="247.6" r="0.9"/>
<circle cx="576.4" cy="249.2" r="0.9"/>
<circle cx="577.3" cy="251.4" r="0.9"/>
<circle cx="578.6" cy="248.9" r="0.9"/>
<circle cx="576.1" cy="248.9" r="0.9"/>
<circle cx="578.3" cy="249.8" r="0.9"/>
<circle cx="576.5" cy="249.9" r="0.9"/>
<circle cx="578.6" cy="249.8" r="0.9"/>
<circle cx="576.4" cy="247.7" r="0.9"/>
<circle cx="578.6" cy="247.7" r="0.9"/>
<circle cx="576.7" cy="252.1" r="0.9"/>
<circle cx="578.9" cy="247.3" r="0.9"/>
<circle cx="577.9" cy="251.2" r="0.9"/>
<circle cx="578.3" cy="248.2" r="0.9"/>
<circle cx="578.6" cy="250.1" r="0.9"/>
<circle cx="578.6" cy="251.1" r="0.9"/>
<circle cx="576.8" cy="250.9" r="0.9"/>
<circle cx="576.4" cy="248.5" r="0.9"/>
<circle cx="577.2" cy="250.5" r="0.9"/>
<circle cx="576.4" cy="253.0" r="0.9"/>
</g>
<path d="M605.2,259.1 Q614.9,257.7 621.4,255.6 Q627.9,257.7 637.6,259.1 Q627.9,260.7 621.4,263.1 Q614.9,260.7 605.2,259.1 Z" fill="#b8e49a" fill-opacity="0.45"/>
<path d="M640.7,250.0 Q650.4,248.4 656.9,246.0 Q663.4,248.4 673.1,250.0 Q663.4,251.6 656.9,254.0 Q650.4,251.6 640.7,250.0 Z" fill="#b8e49a" fill-opacity="0.45"/>
<polygon points="621.4,254.5 656.9,248.4 656.9,259.2 621.4,262.6" fill="#58b623" fill-opacity="0.08"/>
<polygon points="621.4,256.2 656.9,249.5 656.9,256.4 621.4,261.3" fill="#58b623" fill-opacity="0.12"/>
<polygon points="621.4,257.7 656.9,250.6 656.9,253.8 621.4,260.2" fill="#58b623" fill-opacity="0.25"/>
<g stroke="#58b623" stroke-width="0.7" stroke-opacity="0.102" fill="none">
<line x1="621.4" y1="259.7" x2="656.9" y2="250.9"/>
<line x1="621.4" y1="260.9" x2="656.9" y2="258.8"/>
<line x1="621.4" y1="259.6" x2="656.9" y2="252.8"/>
<line x1="621.4" y1="251.5" x2="656.9" y2="247.9"/>
<line x1="621.4" y1="260.7" x2="656.9" y2="250.7"/>
<line x1="621.4" y1="258.1" x2="656.9" y2="260.8"/>
<line x1="621.4" y1="265.0" x2="656.9" y2="260.4"/>
<line x1="621.4" y1="258.2" x2="656.9" y2="251.8"/>
<line x1="621.4" y1="257.0" x2="656.9" y2="252.2"/>
<line x1="621.4" y1="259.6" x2="656.9" y2="251.4"/>
<line x1="621.4" y1="262.2" x2="656.9" y2="250.8"/>
<line x1="621.4" y1="259.7" x2="656.9" y2="251.6"/>
<line x1="621.4" y1="261.0" x2="656.9" y2="252.8"/>
<line x1="621.4" y1="265.0" x2="656.9" y2="264.4"/>
<line x1="621.4" y1="257.2" x2="656.9" y2="248.9"/>
<line x1="621.4" y1="261.4" x2="656.9" y2="257.1"/>
<line x1="621.4" y1="263.2" x2="656.9" y2="257.0"/>
<line x1="621.4" y1="258.2" x2="656.9" y2="249.1"/>
<line x1="621.4" y1="260.1" x2="656.9" y2="252.0"/>
<line x1="621.4" y1="257.1" x2="656.9" y2="249.4"/>
<line x1="621.4" y1="253.2" x2="656.9" y2="248.2"/>
<line x1="621.4" y1="254.1" x2="656.9" y2="250.3"/>
<line x1="621.4" y1="255.9" x2="656.9" y2="249.4"/>
<line x1="621.4" y1="259.6" x2="656.9" y2="256.1"/>
<line x1="621.4" y1="259.0" x2="656.9" y2="252.2"/>
<line x1="621.4" y1="265.0" x2="656.9" y2="263.2"/>
<line x1="621.4" y1="262.6" x2="656.9" y2="257.8"/>
<line x1="621.4" y1="259.1" x2="656.9" y2="250.4"/>
<line x1="621.4" y1="261.7" x2="656.9" y2="251.5"/>
<line x1="621.4" y1="257.7" x2="656.9" y2="250.0"/>
</g>
<path d="M621.4,251.5 Q623.6,259.1 621.4,265.0 Q619.2,259.1 621.4,251.5 Z" fill="#58b623" fill-opacity="0.35"/>
<ellipse cx="621.4" cy="258.8" rx="1.7" ry="4.9" fill="#58b623" fill-opacity="0.85"/>
<g fill="#58b623" fill-opacity="0.45">
<circle cx="621.8" cy="255.7" r="0.9"/>
<circle cx="620.5" cy="257.5" r="0.9"/>
<circle cx="622.0" cy="256.9" r="0.9"/>
<circle cx="620.5" cy="260.0" r="0.9"/>
<circle cx="621.1" cy="257.0" r="0.9"/>
<circle cx="621.7" cy="257.9" r="0.9"/>
<circle cx="621.9" cy="255.6" r="0.9"/>
<circle cx="622.0" cy="260.6" r="0.9"/>
<circle cx="620.7" cy="264.2" r="0.9"/>
<circle cx="621.5" cy="254.3" r="0.9"/>
<circle cx="620.1" cy="259.6" r="0.9"/>
<circle cx="621.9" cy="259.4" r="0.9"/>
<circle cx="620.6" cy="256.0" r="0.9"/>
<circle cx="622.7" cy="260.2" r="0.9"/>
<circle cx="622.0" cy="252.0" r="0.9"/>
<circle cx="622.5" cy="259.3" r="0.9"/>
<circle cx="622.7" cy="261.6" r="0.9"/>
<circle cx="621.6" cy="259.7" r="0.9"/>
<circle cx="621.5" cy="256.5" r="0.9"/>
<circle cx="620.2" cy="261.9" r="0.9"/>
<circle cx="621.6" cy="261.1" r="0.9"/>
<circle cx="621.2" cy="258.4" r="0.9"/>
<circle cx="621.9" cy="257.7" r="0.9"/>
<circle cx="621.5" cy="263.9" r="0.9"/>
<circle cx="622.8" cy="257.6" r="0.9"/>
<circle cx="620.8" cy="253.7" r="0.9"/>
<circle cx="621.3" cy="253.3" r="0.9"/>
<circle cx="621.1" cy="260.0" r="0.9"/>
<circle cx="621.1" cy="256.0" r="0.9"/>
<circle cx="621.1" cy="265.0" r="0.9"/>
<circle cx="621.2" cy="258.3" r="0.9"/>
<circle cx="621.3" cy="258.3" r="0.9"/>
<circle cx="621.0" cy="261.0" r="0.9"/>
<circle cx="622.3" cy="260.5" r="0.9"/>
<circle cx="621.5" cy="258.2" r="0.9"/>
<circle cx="620.1" cy="258.5" r="0.9"/>
</g>
<path d="M656.9,246.3 Q659.1,251.5 656.9,264.4 Q654.7,251.5 656.9,246.3 Z" fill="#58b623" fill-opacity="0.35"/>
<ellipse cx="656.9" cy="252.7" rx="1.7" ry="6.5" fill="#58b623" fill-opacity="0.85"/>
<g fill="#58b623" fill-opacity="0.45">
<circle cx="657.6" cy="251.6" r="0.9"/>
<circle cx="658.1" cy="255.5" r="0.9"/>
<circle cx="657.4" cy="251.4" r="0.9"/>
<circle cx="656.5" cy="248.5" r="0.9"/>
<circle cx="655.6" cy="249.3" r="0.9"/>
<circle cx="658.3" cy="250.6" r="0.9"/>
<circle cx="658.2" cy="251.2" r="0.9"/>
<circle cx="657.0" cy="253.1" r="0.9"/>
<circle cx="655.4" cy="250.7" r="0.9"/>
<circle cx="658.0" cy="253.4" r="0.9"/>
<circle cx="655.9" cy="251.8" r="0.9"/>
<circle cx="655.8" cy="250.0" r="0.9"/>
<circle cx="656.6" cy="249.5" r="0.9"/>
<circle cx="656.3" cy="250.8" r="0.9"/>
<circle cx="656.4" cy="252.6" r="0.9"/>
<circle cx="658.0" cy="251.0" r="0.9"/>
<circle cx="657.6" cy="251.4" r="0.9"/>
<circle cx="658.1" cy="250.2" r="0.9"/>
<circle cx="657.6" cy="251.5" r="0.9"/>
<circle cx="658.4" cy="256.7" r="0.9"/>
<circle cx="656.7" cy="261.8" r="0.9"/>
<circle cx="655.7" cy="257.3" r="0.9"/>
<circle cx="657.1" cy="254.8" r="0.9"/>
<circle cx="657.3" cy="248.9" r="0.9"/>
<circle cx="655.8" cy="254.5" r="0.9"/>
<circle cx="655.7" cy="249.4" r="0.9"/>
<circle cx="657.4" cy="252.2" r="0.9"/>
<circle cx="657.3" cy="251.9" r="0.9"/>
<circle cx="656.6" cy="248.3" r="0.9"/>
<circle cx="657.0" cy="248.9" r="0.9"/>
<circle cx="656.2" cy="246.5" r="0.9"/>
<circle cx="655.9" cy="253.8" r="0.9"/>
<circle cx="657.8" cy="254.7" r="0.9"/>
<circle cx="656.2" cy="254.5" r="0.9"/>
<circle cx="657.8" cy="246.3" r="0.9"/>
<circle cx="656.8" cy="252.4" r="0.9"/>
</g>
<rect x="563.4" y="283.8" width="72.3" height="15.4" fill="#fff" stroke="#333" stroke-width="1.1"/>
<text x="598.8" y="294.9" font-size="9" fill="#333" text-anchor="middle">K4</text>
<line x1="522.7" y1="301.3" x2="522.7" y2="343.6" stroke="#333" stroke-width="1.1"/>
<line x1="520.2" y1="336.1" x2="522.7" y2="336.1" stroke="#333" stroke-width="1"/>
<line x1="520.2" y1="328.7" x2="522.7" y2="328.7" stroke="#333" stroke-width="1"/>
<line x1="520.2" y1="321.2" x2="522.7" y2="321.2" stroke="#333" stroke-width="1"/>
<line x1="520.2" y1="313.8" x2="522.7" y2="313.8" stroke="#333" stroke-width="1"/>
<line x1="520.2" y1="306.4" x2="522.7" y2="306.4" stroke="#333" stroke-width="1"/>
<text x="517.6" y="310.2" font-size="10.5" fill="#4d4d4d" text-anchor="end">2</text>
<text x="517.6" y="325.0" font-size="10.5" fill="#4d4d4d" text-anchor="end">0</text>
<text x="517.6" y="339.9" font-size="10.5" fill="#4d4d4d" text-anchor="end">−2</text>
<path d="M526.2,312.0 Q538.4,311.1 542.4,308.5 Q546.4,311.1 558.6,312.0 Q546.4,312.9 542.4,315.5 Q538.4,312.9 526.2,312.0 Z" fill="#e89ad0" fill-opacity="0.45"/>
<path d="M561.4,329.3 Q573.6,328.3 577.6,325.3 Q581.6,328.3 593.8,329.3 Q581.6,330.3 577.6,333.3 Q573.6,330.3 561.4,329.3 Z" fill="#e89ad0" fill-opacity="0.45"/>
<polygon points="542.4,309.2 577.6,324.6 577.6,333.6 542.4,316.1" fill="#c8369c" fill-opacity="0.12"/>
<polygon points="542.4,310.2 577.6,326.3 577.6,332.0 542.4,314.6" fill="#c8369c" fill-opacity="0.17"/>
<polygon points="542.4,311.2 577.6,327.9 577.6,330.6 542.4,313.2" fill="#c8369c" fill-opacity="0.36"/>
<g stroke="#c8369c" stroke-width="0.7" stroke-opacity="0.132" fill="none">
<line x1="542.4" y1="310.8" x2="577.6" y2="324.4"/>
<line x1="542.4" y1="310.6" x2="577.6" y2="327.9"/>
<line x1="542.4" y1="308.2" x2="577.6" y2="325.1"/>
<line x1="542.4" y1="310.7" x2="577.6" y2="327.4"/>
<line x1="542.4" y1="316.8" x2="577.6" y2="331.1"/>
<line x1="542.4" y1="312.5" x2="577.6" y2="331.0"/>
<line x1="542.4" y1="314.6" x2="577.6" y2="332.2"/>
<line x1="542.4" y1="310.8" x2="577.6" y2="329.3"/>
<line x1="542.4" y1="312.0" x2="577.6" y2="327.9"/>
<line x1="542.4" y1="311.0" x2="577.6" y2="325.4"/>
<line x1="542.4" y1="307.3" x2="577.6" y2="322.1"/>
<line x1="542.4" y1="312.5" x2="577.6" y2="329.9"/>
<line x1="542.4" y1="312.9" x2="577.6" y2="329.1"/>
<line x1="542.4" y1="311.7" x2="577.6" y2="330.7"/>
<line x1="542.4" y1="313.1" x2="577.6" y2="329.8"/>
<line x1="542.4" y1="311.1" x2="577.6" y2="328.6"/>
<line x1="542.4" y1="309.1" x2="577.6" y2="325.9"/>
<line x1="542.4" y1="313.6" x2="577.6" y2="332.9"/>
<line x1="542.4" y1="310.7" x2="577.6" y2="326.7"/>
<line x1="542.4" y1="307.3" x2="577.6" y2="323.2"/>
<line x1="542.4" y1="310.6" x2="577.6" y2="327.8"/>
<line x1="542.4" y1="314.1" x2="577.6" y2="332.0"/>
<line x1="542.4" y1="313.6" x2="577.6" y2="328.1"/>
<line x1="542.4" y1="315.7" x2="577.6" y2="332.9"/>
<line x1="542.4" y1="308.8" x2="577.6" y2="322.0"/>
<line x1="542.4" y1="314.5" x2="577.6" y2="333.5"/>
<line x1="542.4" y1="318.8" x2="577.6" y2="333.6"/>
<line x1="542.4" y1="312.7" x2="577.6" y2="326.8"/>
<line x1="542.4" y1="311.1" x2="577.6" y2="325.3"/>
<line x1="542.4" y1="314.3" x2="577.6" y2="331.8"/>
</g>
<path d="M542.4,307.3 Q544.6,312.0 542.4,318.8 Q540.2,312.0 542.4,307.3 Z" fill="#c8369c" fill-opacity="0.35"/>
<ellipse cx="542.4" cy="312.3" rx="1.7" ry="4.1" fill="#c8369c" fill-opacity="0.85"/>
<g fill="#c8369c" fill-opacity="0.45">
<circle cx="542.0" cy="313.8" r="0.9"/>
<circle cx="541.9" cy="309.1" r="0.9"/>
<circle cx="542.6" cy="313.0" r="0.9"/>
<circle cx="543.4" cy="307.5" r="0.9"/>
<circle cx="543.8" cy="313.8" r="0.9"/>
<circle cx="543.7" cy="316.0" r="0.9"/>
<circle cx="541.8" cy="309.7" r="0.9"/>
<circle cx="541.5" cy="311.6" r="0.9"/>
<circle cx="541.8" cy="310.6" r="0.9"/>
<circle cx="542.8" cy="314.8" r="0.9"/>
<circle cx="541.1" cy="312.5" r="0.9"/>
<circle cx="543.3" cy="313.6" r="0.9"/>
<circle cx="541.0" cy="314.0" r="0.9"/>
<circle cx="541.3" cy="308.2" r="0.9"/>
<circle cx="542.5" cy="312.0" r="0.9"/>
<circle cx="541.0" cy="312.1" r="0.9"/>
<circle cx="542.0" cy="315.4" r="0.9"/>
<circle cx="542.4" cy="316.2" r="0.9"/>
<circle cx="543.0" cy="311.1" r="0.9"/>
<circle cx="543.1" cy="310.3" r="0.9"/>
<circle cx="542.5" cy="311.6" r="0.9"/>
<circle cx="541.3" cy="313.4" r="0.9"/>
<circle cx="542.3" cy="310.2" r="0.9"/>
<circle cx="541.3" cy="314.8" r="0.9"/>
<circle cx="541.4" cy="313.9" r="0.9"/>
<circle cx="541.0" cy="310.0" r="0.9"/>
<circle cx="543.5" cy="311.6" r="0.9"/>
<circle cx="543.0" cy="309.7" r="0.9"/>
<circle cx="543.4" cy="314.8" r="0.9"/>
<circle cx="542.6" cy="312.7" r="0.9"/>
<circle cx="542.1" cy="310.9" r="0.9"/>
<circle cx="542.1" cy="308.9" r="0.9"/>
<circle cx="541.4" cy="312.9" r="0.9"/>
<circle cx="543.6" cy="312.6" r="0.9"/>
<circle cx="542.5" cy="312.8" r="0.9"/>
<circle cx="543.1" cy="313.6" r="0.9"/>
</g>
<path d="M577.6,321.4 Q579.8,329.3 577.6,336.5 Q575.4,329.3 577.6,321.4 Z" fill="#c8369c" fill-opacity="0.35"/>
<ellipse cx="577.6" cy="329.2" rx="1.7" ry="5.4" fill="#c8369c" fill-opacity="0.85"/>
<g fill="#c8369c" fill-opacity="0.45">
<circle cx="577.8" cy="333.4" r="0.9"/>
<circle cx="578.6" cy="328.5" r="0.9"/>
<circle cx="578.0" cy="331.5" r="0.9"/>
<circle cx="576.3" cy="327.4" r="0.9"/>
<circle cx="578.8" cy="332.8" r="0.9"/>
<circle cx="576.6" cy="330.7" r="0.9"/>
<circle cx="577.2" cy="332.3" r="0.9"/>
<circle cx="576.2" cy="330.9" r="0.9"/>
<circle cx="577.2" cy="329.5" r="0.9"/>
<circle cx="576.6" cy="327.8" r="0.9"/>
<circle cx="577.4" cy="333.8" r="0.9"/>
<circle cx="578.7" cy="328.2" r="0.9"/>
<circle cx="579.1" cy="326.3" r="0.9"/>
<circle cx="578.4" cy="332.1" r="0.9"/>
<circle cx="577.1" cy="331.9" r="0.9"/>
<circle cx="577.2" cy="330.8" r="0.9"/>
<circle cx="578.0" cy="329.2" r="0.9"/>
<circle cx="578.3" cy="332.4" r="0.9"/>
<circle cx="577.2" cy="330.2" r="0.9"/>
<circle cx="578.7" cy="329.6" r="0.9"/>
<circle cx="576.9" cy="333.5" r="0.9"/>
<circle cx="578.0" cy="327.7" r="0.9"/>
<circle cx="576.9" cy="331.9" r="0.9"/>
<circle cx="577.5" cy="325.7" r="0.9"/>
<circle cx="577.0" cy="332.1" r="0.9"/>
<circle cx="577.9" cy="332.0" r="0.9"/>
<circle cx="576.9" cy="331.0" r="0.9"/>
<circle cx="577.6" cy="336.5" r="0.9"/>
<circle cx="578.3" cy="333.2" r="0.9"/>
<circle cx="577.7" cy="322.5" r="0.9"/>
<circle cx="578.9" cy="327.2" r="0.9"/>
<circle cx="578.8" cy="327.0" r="0.9"/>
<circle cx="577.1" cy="329.3" r="0.9"/>
<circle cx="578.3" cy="333.0" r="0.9"/>
<circle cx="576.1" cy="330.5" r="0.9"/>
<circle cx="577.6" cy="332.3" r="0.9"/>
</g>
<path d="M605.2,319.1 Q614.9,317.5 621.4,315.1 Q627.9,317.5 637.6,319.1 Q627.9,321.1 621.4,324.1 Q614.9,321.1 605.2,319.1 Z" fill="#b8e49a" fill-opacity="0.45"/>
<path d="M640.7,327.5 Q649.6,323.9 656.9,319.5 Q664.2,323.9 673.1,327.5 Q664.2,329.3 656.9,331.5 Q649.6,329.3 640.7,327.5 Z" fill="#b8e49a" fill-opacity="0.45"/>
<polygon points="621.4,315.8 656.9,318.3 656.9,330.2 621.4,325.5" fill="#58b623" fill-opacity="0.06"/>
<polygon points="621.4,317.2 656.9,321.1 656.9,328.7 621.4,323.4" fill="#58b623" fill-opacity="0.09"/>
<polygon points="621.4,318.4 656.9,323.7 656.9,327.3 621.4,321.4" fill="#58b623" fill-opacity="0.19"/>
<g stroke="#58b623" stroke-width="0.7" stroke-opacity="0.084" fill="none">
<line x1="621.4" y1="317.2" x2="656.9" y2="324.1"/>
<line x1="621.4" y1="318.3" x2="656.9" y2="320.1"/>
<line x1="621.4" y1="321.8" x2="656.9" y2="332.1"/>
<line x1="621.4" y1="321.2" x2="656.9" y2="323.2"/>
<line x1="621.4" y1="319.2" x2="656.9" y2="321.5"/>
<line x1="621.4" y1="320.8" x2="656.9" y2="318.6"/>
<line x1="621.4" y1="317.4" x2="656.9" y2="317.4"/>
<line x1="621.4" y1="325.3" x2="656.9" y2="326.8"/>
<line x1="621.4" y1="321.6" x2="656.9" y2="322.5"/>
<line x1="621.4" y1="322.1" x2="656.9" y2="331.3"/>
<line x1="621.4" y1="326.7" x2="656.9" y2="330.1"/>
<line x1="621.4" y1="322.0" x2="656.9" y2="327.1"/>
<line x1="621.4" y1="323.1" x2="656.9" y2="328.0"/>
<line x1="621.4" y1="320.3" x2="656.9" y2="323.5"/>
<line x1="621.4" y1="322.0" x2="656.9" y2="324.5"/>
<line x1="621.4" y1="319.0" x2="656.9" y2="319.5"/>
<line x1="621.4" y1="317.2" x2="656.9" y2="327.8"/>
<line x1="621.4" y1="316.6" x2="656.9" y2="326.0"/>
<line x1="621.4" y1="324.4" x2="656.9" y2="332.2"/>
<line x1="621.4" y1="320.5" x2="656.9" y2="331.7"/>
<line x1="621.4" y1="320.2" x2="656.9" y2="327.7"/>
<line x1="621.4" y1="329.1" x2="656.9" y2="333.0"/>
<line x1="621.4" y1="319.2" x2="656.9" y2="329.3"/>
<line x1="621.4" y1="321.1" x2="656.9" y2="320.5"/>
<line x1="621.4" y1="318.2" x2="656.9" y2="322.7"/>
<line x1="621.4" y1="313.5" x2="656.9" y2="316.8"/>
<line x1="621.4" y1="326.7" x2="656.9" y2="332.5"/>
<line x1="621.4" y1="317.5" x2="656.9" y2="322.1"/>
<line x1="621.4" y1="313.6" x2="656.9" y2="315.9"/>
<line x1="621.4" y1="315.6" x2="656.9" y2="316.1"/>
</g>
<path d="M621.4,313.2 Q623.6,319.6 621.4,329.5 Q619.2,319.6 621.4,313.2 Z" fill="#58b623" fill-opacity="0.35"/>
<ellipse cx="621.4" cy="320.1" rx="1.7" ry="5.9" fill="#58b623" fill-opacity="0.85"/>
<g fill="#58b623" fill-opacity="0.45">
<circle cx="620.1" cy="321.8" r="0.9"/>
<circle cx="621.0" cy="328.7" r="0.9"/>
<circle cx="621.2" cy="321.8" r="0.9"/>
<circle cx="622.5" cy="324.5" r="0.9"/>
<circle cx="621.0" cy="317.0" r="0.9"/>
<circle cx="621.0" cy="320.3" r="0.9"/>
<circle cx="621.1" cy="322.7" r="0.9"/>
<circle cx="622.2" cy="320.6" r="0.9"/>
<circle cx="621.5" cy="319.2" r="0.9"/>
<circle cx="622.0" cy="322.0" r="0.9"/>
<circle cx="622.7" cy="316.3" r="0.9"/>
<circle cx="621.5" cy="317.8" r="0.9"/>
<circle cx="620.8" cy="322.3" r="0.9"/>
<circle cx="621.9" cy="318.2" r="0.9"/>
<circle cx="619.9" cy="325.7" r="0.9"/>
<circle cx="620.3" cy="320.8" r="0.9"/>
<circle cx="622.2" cy="323.8" r="0.9"/>
<circle cx="620.0" cy="319.2" r="0.9"/>
<circle cx="622.0" cy="320.3" r="0.9"/>
<circle cx="621.1" cy="318.7" r="0.9"/>
<circle cx="622.7" cy="316.6" r="0.9"/>
<circle cx="621.8" cy="321.0" r="0.9"/>
<circle cx="621.7" cy="322.1" r="0.9"/>
<circle cx="620.4" cy="318.8" r="0.9"/>
<circle cx="622.5" cy="324.4" r="0.9"/>
<circle cx="620.5" cy="318.8" r="0.9"/>
<circle cx="622.3" cy="317.9" r="0.9"/>
<circle cx="620.7" cy="321.1" r="0.9"/>
<circle cx="620.4" cy="319.4" r="0.9"/>
<circle cx="621.8" cy="327.8" r="0.9"/>
<circle cx="622.5" cy="323.2" r="0.9"/>
<circle cx="620.2" cy="316.6" r="0.9"/>
<circle cx="621.8" cy="320.5" r="0.9"/>
<circle cx="621.5" cy="320.1" r="0.9"/>
<circle cx="621.2" cy="322.4" r="0.9"/>
<circle cx="622.8" cy="317.9" r="0.9"/>
</g>
<path d="M656.9,313.2 Q659.1,326.0 656.9,333.0 Q654.7,326.0 656.9,313.2 Z" fill="#58b623" fill-opacity="0.35"/>
<ellipse cx="656.9" cy="325.1" rx="1.7" ry="7.1" fill="#58b623" fill-opacity="0.85"/>
<g fill="#58b623" fill-opacity="0.45">
<circle cx="656.0" cy="324.5" r="0.9"/>
<circle cx="658.0" cy="322.7" r="0.9"/>
<circle cx="657.4" cy="323.3" r="0.9"/>
<circle cx="656.5" cy="322.6" r="0.9"/>
<circle cx="657.2" cy="322.4" r="0.9"/>
<circle cx="657.9" cy="329.1" r="0.9"/>
<circle cx="655.8" cy="323.1" r="0.9"/>
<circle cx="656.1" cy="327.4" r="0.9"/>
<circle cx="656.1" cy="327.3" r="0.9"/>
<circle cx="656.6" cy="318.7" r="0.9"/>
<circle cx="657.2" cy="321.1" r="0.9"/>
<circle cx="656.6" cy="329.1" r="0.9"/>
<circle cx="657.6" cy="323.0" r="0.9"/>
<circle cx="657.4" cy="321.6" r="0.9"/>
<circle cx="656.5" cy="321.1" r="0.9"/>
<circle cx="655.9" cy="330.3" r="0.9"/>
<circle cx="656.2" cy="326.0" r="0.9"/>
<circle cx="657.6" cy="320.7" r="0.9"/>
<circle cx="657.1" cy="316.5" r="0.9"/>
<circle cx="658.3" cy="326.1" r="0.9"/>
<circle cx="657.6" cy="328.6" r="0.9"/>
<circle cx="658.3" cy="328.5" r="0.9"/>
<circle cx="658.2" cy="328.8" r="0.9"/>
<circle cx="658.3" cy="323.0" r="0.9"/>
<circle cx="657.6" cy="332.6" r="0.9"/>
<circle cx="657.6" cy="325.5" r="0.9"/>
<circle cx="656.6" cy="328.6" r="0.9"/>
<circle cx="658.1" cy="315.5" r="0.9"/>
<circle cx="656.1" cy="328.3" r="0.9"/>
<circle cx="655.8" cy="313.2" r="0.9"/>
<circle cx="656.4" cy="325.9" r="0.9"/>
<circle cx="655.5" cy="320.4" r="0.9"/>
<circle cx="658.1" cy="327.8" r="0.9"/>
<circle cx="655.5" cy="330.7" r="0.9"/>
<circle cx="657.5" cy="324.5" r="0.9"/>
<circle cx="658.0" cy="323.4" r="0.9"/>
</g>
<rect x="563.4" y="345.3" width="72.3" height="15.4" fill="#fff" stroke="#333" stroke-width="1.1"/>
<text x="598.8" y="356.4" font-size="9" fill="#333" text-anchor="middle">K5</text>
<line x1="522.7" y1="362.1" x2="522.7" y2="404.4" stroke="#333" stroke-width="1.1"/>
<line x1="520.2" y1="397.6" x2="522.7" y2="397.6" stroke="#333" stroke-width="1"/>
<line x1="520.2" y1="390.2" x2="522.7" y2="390.2" stroke="#333" stroke-width="1"/>
<line x1="520.2" y1="382.7" x2="522.7" y2="382.7" stroke="#333" stroke-width="1"/>
<line x1="520.2" y1="375.3" x2="522.7" y2="375.3" stroke="#333" stroke-width="1"/>
<line x1="520.2" y1="367.9" x2="522.7" y2="367.9" stroke="#333" stroke-width="1"/>
<text x="517.6" y="371.7" font-size="10.5" fill="#4d4d4d" text-anchor="end">2</text>
<text x="517.6" y="386.5" font-size="10.5" fill="#4d4d4d" text-anchor="end">0</text>
<text x="517.6" y="401.4" font-size="10.5" fill="#4d4d4d" text-anchor="end">−2</text>
<path d="M526.2,372.3 Q538.4,371.4 542.4,368.8 Q546.4,371.4 558.6,372.3 Q546.4,373.2 542.4,375.8 Q538.4,373.2 526.2,372.3 Z" fill="#e89ad0" fill-opacity="0.45"/>
<path d="M561.4,389.0 Q569.5,383.0 577.6,377.0 Q585.7,383.0 593.8,389.0 Q585.7,392.2 577.6,395.4 Q569.5,392.2 561.4,389.0 Z" fill="#e89ad0" fill-opacity="0.45"/>
<polygon points="542.4,368.4 577.6,380.7 577.6,391.9 542.4,376.4" fill="#c8369c" fill-opacity="0.05"/>
<polygon points="542.4,369.9 577.6,382.8 577.6,389.9 542.4,375.0" fill="#c8369c" fill-opacity="0.07"/>
<polygon points="542.4,371.3 577.6,384.8 577.6,388.2 542.4,373.8" fill="#c8369c" fill-opacity="0.15"/>
<g stroke="#c8369c" stroke-width="0.7" stroke-opacity="0.072" fill="none">
<line x1="542.4" y1="371.8" x2="577.6" y2="384.9"/>
<line x1="542.4" y1="371.3" x2="577.6" y2="389.1"/>
<line x1="542.4" y1="370.2" x2="577.6" y2="381.0"/>
<line x1="542.4" y1="372.7" x2="577.6" y2="387.1"/>
<line x1="542.4" y1="374.4" x2="577.6" y2="386.7"/>
<line x1="542.4" y1="370.6" x2="577.6" y2="388.4"/>
<line x1="542.4" y1="374.3" x2="577.6" y2="385.5"/>
<line x1="542.4" y1="376.1" x2="577.6" y2="389.6"/>
<line x1="542.4" y1="371.1" x2="577.6" y2="392.0"/>
<line x1="542.4" y1="373.5" x2="577.6" y2="392.4"/>
<line x1="542.4" y1="372.4" x2="577.6" y2="386.8"/>
<line x1="542.4" y1="373.9" x2="577.6" y2="385.7"/>
<line x1="542.4" y1="374.5" x2="577.6" y2="383.8"/>
<line x1="542.4" y1="373.3" x2="577.6" y2="394.4"/>
<line x1="542.4" y1="373.8" x2="577.6" y2="386.4"/>
<line x1="542.4" y1="371.1" x2="577.6" y2="383.2"/>
<line x1="542.4" y1="373.2" x2="577.6" y2="394.9"/>
<line x1="542.4" y1="366.9" x2="577.6" y2="381.9"/>
<line x1="542.4" y1="370.8" x2="577.6" y2="382.6"/>
<line x1="542.4" y1="375.0" x2="577.6" y2="387.9"/>
<line x1="542.4" y1="368.2" x2="577.6" y2="381.8"/>
<line x1="542.4" y1="370.0" x2="577.6" y2="386.8"/>
<line x1="542.4" y1="371.0" x2="577.6" y2="385.2"/>
<line x1="542.4" y1="372.9" x2="577.6" y2="384.1"/>
<line x1="542.4" y1="369.8" x2="577.6" y2="384.7"/>
<line x1="542.4" y1="371.2" x2="577.6" y2="387.1"/>
<line x1="542.4" y1="372.1" x2="577.6" y2="387.4"/>
<line x1="542.4" y1="375.9" x2="577.6" y2="387.3"/>
<line x1="542.4" y1="374.5" x2="577.6" y2="381.5"/>
<line x1="542.4" y1="373.5" x2="577.6" y2="386.2"/>
</g>
<path d="M542.4,365.6 Q544.6,372.6 542.4,379.0 Q540.2,372.6 542.4,365.6 Z" fill="#c8369c" fill-opacity="0.35"/>
<ellipse cx="542.4" cy="372.5" rx="1.7" ry="4.8" fill="#c8369c" fill-opacity="0.85"/>
<g fill="#c8369c" fill-opacity="0.45">
<circle cx="543.0" cy="377.0" r="0.9"/>
<circle cx="542.6" cy="366.0" r="0.9"/>
<circle cx="541.6" cy="376.8" r="0.9"/>
<circle cx="541.4" cy="371.7" r="0.9"/>
<circle cx="542.1" cy="374.8" r="0.9"/>
<circle cx="541.5" cy="371.1" r="0.9"/>
<circle cx="543.0" cy="372.1" r="0.9"/>
<circle cx="543.0" cy="370.6" r="0.9"/>
<circle cx="542.2" cy="373.4" r="0.9"/>
<circle cx="542.1" cy="372.7" r="0.9"/>
<circle cx="542.8" cy="370.7" r="0.9"/>
<circle cx="543.1" cy="370.8" r="0.9"/>
<circle cx="541.1" cy="374.8" r="0.9"/>
<circle cx="541.4" cy="370.4" r="0.9"/>
<circle cx="541.5" cy="374.3" r="0.9"/>
<circle cx="543.7" cy="374.2" r="0.9"/>
<circle cx="541.5" cy="368.8" r="0.9"/>
<circle cx="541.9" cy="371.0" r="0.9"/>
<circle cx="541.1" cy="376.0" r="0.9"/>
<circle cx="542.6" cy="368.9" r="0.9"/>
<circle cx="543.7" cy="370.1" r="0.9"/>
<circle cx="541.0" cy="368.8" r="0.9"/>
<circle cx="541.4" cy="373.4" r="0.9"/>
<circle cx="543.0" cy="375.5" r="0.9"/>
<circle cx="541.4" cy="373.5" r="0.9"/>
<circle cx="543.5" cy="377.2" r="0.9"/>
<circle cx="541.0" cy="369.1" r="0.9"/>
<circle cx="543.0" cy="372.0" r="0.9"/>
<circle cx="542.7" cy="371.1" r="0.9"/>
<circle cx="542.3" cy="371.6" r="0.9"/>
<circle cx="543.3" cy="375.8" r="0.9"/>
<circle cx="541.2" cy="372.0" r="0.9"/>
<circle cx="542.7" cy="368.1" r="0.9"/>
<circle cx="543.1" cy="375.2" r="0.9"/>
<circle cx="543.1" cy="372.6" r="0.9"/>
<circle cx="541.6" cy="371.6" r="0.9"/>
</g>
<path d="M577.6,376.7 Q579.8,386.6 577.6,395.4 Q575.4,386.6 577.6,376.7 Z" fill="#c8369c" fill-opacity="0.35"/>
<ellipse cx="577.6" cy="386.4" rx="1.7" ry="6.7" fill="#c8369c" fill-opacity="0.85"/>
<g fill="#c8369c" fill-opacity="0.45">
<circle cx="578.5" cy="386.6" r="0.9"/>
<circle cx="576.4" cy="384.7" r="0.9"/>
<circle cx="577.5" cy="381.0" r="0.9"/>
<circle cx="577.1" cy="390.7" r="0.9"/>
<circle cx="577.3" cy="390.8" r="0.9"/>
<circle cx="577.0" cy="386.9" r="0.9"/>
<circle cx="577.0" cy="384.6" r="0.9"/>
<circle cx="577.3" cy="392.0" r="0.9"/>
<circle cx="578.6" cy="384.5" r="0.9"/>
<circle cx="576.9" cy="379.7" r="0.9"/>
<circle cx="576.1" cy="381.1" r="0.9"/>
<circle cx="578.6" cy="391.7" r="0.9"/>
<circle cx="577.6" cy="389.2" r="0.9"/>
<circle cx="577.9" cy="384.7" r="0.9"/>
<circle cx="576.3" cy="390.3" r="0.9"/>
<circle cx="578.3" cy="387.6" r="0.9"/>
<circle cx="578.3" cy="379.2" r="0.9"/>
<circle cx="578.0" cy="386.8" r="0.9"/>
<circle cx="577.1" cy="389.9" r="0.9"/>
<circle cx="576.3" cy="385.0" r="0.9"/>
<circle cx="579.1" cy="389.5" r="0.9"/>
<circle cx="578.1" cy="387.1" r="0.9"/>
<circle cx="578.3" cy="384.5" r="0.9"/>
<circle cx="579.1" cy="385.4" r="0.9"/>
<circle cx="577.1" cy="385.8" r="0.9"/>
<circle cx="577.4" cy="390.1" r="0.9"/>
<circle cx="578.3" cy="388.5" r="0.9"/>
<circle cx="576.4" cy="388.6" r="0.9"/>
<circle cx="577.2" cy="380.5" r="0.9"/>
<circle cx="576.8" cy="385.2" r="0.9"/>
<circle cx="577.1" cy="390.1" r="0.9"/>
<circle cx="578.7" cy="387.1" r="0.9"/>
<circle cx="577.4" cy="388.4" r="0.9"/>
<circle cx="578.7" cy="389.1" r="0.9"/>
<circle cx="578.2" cy="391.4" r="0.9"/>
<circle cx="578.5" cy="380.4" r="0.9"/>
</g>
<path d="M605.2,389.0 Q612.5,382.6 621.4,377.3 Q630.3,382.6 637.6,389.0 Q630.3,394.1 621.4,398.3 Q612.5,394.1 605.2,389.0 Z" fill="#b8e49a" fill-opacity="0.45"/>
<path d="M640.7,383.1 Q648.0,377.1 656.9,372.1 Q665.8,377.1 673.1,383.1 Q665.8,388.9 656.9,393.7 Q648.0,388.9 640.7,383.1 Z" fill="#b8e49a" fill-opacity="0.45"/>
<g stroke="#58b623" stroke-width="0.7" stroke-opacity="0.044" fill="none">
<line x1="621.4" y1="390.5" x2="656.9" y2="385.9"/>
<line x1="621.4" y1="383.6" x2="656.9" y2="385.5"/>
<line x1="621.4" y1="386.1" x2="656.9" y2="383.4"/>
<line x1="621.4" y1="393.0" x2="656.9" y2="386.2"/>
<line x1="621.4" y1="386.1" x2="656.9" y2="380.5"/>
<line x1="621.4" y1="390.6" x2="656.9" y2="383.5"/>
<line x1="621.4" y1="392.6" x2="656.9" y2="379.2"/>
<line x1="621.4" y1="381.8" x2="656.9" y2="381.8"/>
<line x1="621.4" y1="392.0" x2="656.9" y2="382.0"/>
<line x1="621.4" y1="383.4" x2="656.9" y2="383.0"/>
<line x1="621.4" y1="387.6" x2="656.9" y2="390.4"/>
<line x1="621.4" y1="383.0" x2="656.9" y2="383.4"/>
<line x1="621.4" y1="393.4" x2="656.9" y2="383.3"/>
<line x1="621.4" y1="385.6" x2="656.9" y2="380.5"/>
<line x1="621.4" y1="384.7" x2="656.9" y2="380.3"/>
<line x1="621.4" y1="390.3" x2="656.9" y2="385.8"/>
<line x1="621.4" y1="392.0" x2="656.9" y2="383.0"/>
<line x1="621.4" y1="392.4" x2="656.9" y2="382.9"/>
<line x1="621.4" y1="397.6" x2="656.9" y2="372.6"/>
<line x1="621.4" y1="391.1" x2="656.9" y2="385.5"/>
<line x1="621.4" y1="390.7" x2="656.9" y2="382.8"/>
<line x1="621.4" y1="382.3" x2="656.9" y2="379.5"/>
<line x1="621.4" y1="388.2" x2="656.9" y2="382.8"/>
<line x1="621.4" y1="395.4" x2="656.9" y2="383.6"/>
<line x1="621.4" y1="389.8" x2="656.9" y2="387.8"/>
<line x1="621.4" y1="391.8" x2="656.9" y2="384.4"/>
<line x1="621.4" y1="389.4" x2="656.9" y2="387.4"/>
<line x1="621.4" y1="389.3" x2="656.9" y2="383.6"/>
<line x1="621.4" y1="397.3" x2="656.9" y2="387.9"/>
<line x1="621.4" y1="377.9" x2="656.9" y2="378.3"/>
</g>
<path d="M621.4,377.3 Q623.6,389.0 621.4,398.3 Q619.2,389.0 621.4,377.3 Z" fill="#58b623" fill-opacity="0.35"/>
<ellipse cx="621.4" cy="388.6" rx="1.7" ry="7.6" fill="#58b623" fill-opacity="0.85"/>
<g fill="#58b623" fill-opacity="0.45">
<circle cx="622.4" cy="389.5" r="0.9"/>
<circle cx="622.0" cy="391.5" r="0.9"/>
<circle cx="622.9" cy="389.9" r="0.9"/>
<circle cx="620.2" cy="386.1" r="0.9"/>
<circle cx="620.4" cy="387.0" r="0.9"/>
<circle cx="620.9" cy="391.1" r="0.9"/>
<circle cx="620.5" cy="389.3" r="0.9"/>
<circle cx="620.3" cy="390.6" r="0.9"/>
<circle cx="621.6" cy="389.7" r="0.9"/>
<circle cx="621.9" cy="388.9" r="0.9"/>
<circle cx="622.2" cy="392.5" r="0.9"/>
<circle cx="622.4" cy="390.1" r="0.9"/>
<circle cx="620.8" cy="394.4" r="0.9"/>
<circle cx="622.4" cy="395.7" r="0.9"/>
<circle cx="622.2" cy="384.6" r="0.9"/>
<circle cx="621.4" cy="393.7" r="0.9"/>
<circle cx="620.6" cy="386.0" r="0.9"/>
<circle cx="620.2" cy="393.5" r="0.9"/>
<circle cx="622.1" cy="388.2" r="0.9"/>
<circle cx="620.5" cy="385.6" r="0.9"/>
<circle cx="620.2" cy="384.3" r="0.9"/>
<circle cx="622.4" cy="385.1" r="0.9"/>
<circle cx="620.4" cy="394.5" r="0.9"/>
<circle cx="620.4" cy="388.7" r="0.9"/>
<circle cx="622.3" cy="390.4" r="0.9"/>
<circle cx="620.0" cy="392.8" r="0.9"/>
<circle cx="621.8" cy="398.3" r="0.9"/>
<circle cx="621.8" cy="385.9" r="0.9"/>
<circle cx="620.0" cy="392.1" r="0.9"/>
<circle cx="621.5" cy="392.2" r="0.9"/>
<circle cx="621.1" cy="390.5" r="0.9"/>
<circle cx="621.7" cy="387.5" r="0.9"/>
<circle cx="620.2" cy="387.4" r="0.9"/>
<circle cx="622.2" cy="386.7" r="0.9"/>
<circle cx="621.3" cy="388.5" r="0.9"/>
<circle cx="621.9" cy="385.7" r="0.9"/>
</g>
<path d="M656.9,372.0 Q659.1,383.1 656.9,393.6 Q654.7,383.1 656.9,372.0 Z" fill="#58b623" fill-opacity="0.35"/>
<ellipse cx="656.9" cy="383.0" rx="1.7" ry="7.8" fill="#58b623" fill-opacity="0.85"/>
<g fill="#58b623" fill-opacity="0.45">
<circle cx="656.8" cy="384.6" r="0.9"/>
<circle cx="658.3" cy="381.4" r="0.9"/>
<circle cx="656.4" cy="383.2" r="0.9"/>
<circle cx="656.0" cy="380.4" r="0.9"/>
<circle cx="657.2" cy="381.8" r="0.9"/>
<circle cx="656.1" cy="385.3" r="0.9"/>
<circle cx="656.7" cy="382.2" r="0.9"/>
<circle cx="657.5" cy="380.3" r="0.9"/>
<circle cx="655.6" cy="373.9" r="0.9"/>
<circle cx="657.8" cy="386.4" r="0.9"/>
<circle cx="657.1" cy="383.1" r="0.9"/>
<circle cx="656.5" cy="387.0" r="0.9"/>
<circle cx="656.0" cy="388.5" r="0.9"/>
<circle cx="657.4" cy="385.2" r="0.9"/>
<circle cx="655.7" cy="385.1" r="0.9"/>
<circle cx="658.2" cy="372.4" r="0.9"/>
<circle cx="656.3" cy="381.1" r="0.9"/>
<circle cx="655.7" cy="382.6" r="0.9"/>
<circle cx="655.5" cy="388.2" r="0.9"/>
<circle cx="658.1" cy="380.1" r="0.9"/>
<circle cx="658.2" cy="383.2" r="0.9"/>
<circle cx="657.8" cy="383.4" r="0.9"/>
<circle cx="656.6" cy="384.2" r="0.9"/>
<circle cx="656.0" cy="376.5" r="0.9"/>
<circle cx="657.8" cy="389.0" r="0.9"/>
<circle cx="655.5" cy="376.7" r="0.9"/>
<circle cx="657.4" cy="383.5" r="0.9"/>
<circle cx="656.3" cy="390.2" r="0.9"/>
<circle cx="657.1" cy="381.8" r="0.9"/>
<circle cx="655.9" cy="383.0" r="0.9"/>
<circle cx="655.8" cy="385.5" r="0.9"/>
<circle cx="656.5" cy="381.7" r="0.9"/>
<circle cx="656.9" cy="377.8" r="0.9"/>
<circle cx="657.7" cy="387.2" r="0.9"/>
<circle cx="656.7" cy="382.0" r="0.9"/>
<circle cx="657.9" cy="379.3" r="0.9"/>
</g>
<line x1="522.2" y1="404.5" x2="596.7" y2="404.5" stroke="#333" stroke-width="1.1"/>
<line x1="602.1" y1="404.5" x2="675.9" y2="404.5" stroke="#333" stroke-width="1.1"/>
<line x1="542.4" y1="404.5" x2="542.4" y2="407" stroke="#333" stroke-width="1"/>
<line x1="577.6" y1="404.5" x2="577.6" y2="407" stroke="#333" stroke-width="1"/>
<line x1="621.4" y1="404.5" x2="621.4" y2="407" stroke="#333" stroke-width="1"/>
<line x1="656.9" y1="404.5" x2="656.9" y2="407" stroke="#333" stroke-width="1"/>
<text transform="translate(544.4,412.2) rotate(-90)" font-size="10.4" fill="#4d4d4d" text-anchor="end">Day 1</text>
<text transform="translate(581.4,412.2) rotate(-90)" font-size="10.4" fill="#4d4d4d" text-anchor="end">Day 4</text>
<text transform="translate(623.7,412.2) rotate(-90)" font-size="10.4" fill="#4d4d4d" text-anchor="end">Day 1</text>
<text transform="translate(659.9,412.2) rotate(-90)" font-size="10.4" fill="#4d4d4d" text-anchor="end">Day 4</text>
<text x="13.4" y="463.0" font-size="20" font-weight="bold" fill="#000">c</text>
<text x="67.7" y="463.2" font-size="14" fill="#1a1a1a">Gene Ontology - Biological Process</text>
<text x="513.8" y="462.7" font-size="14" fill="#1a1a1a">KEGG</text>
<rect x="191.6" y="476.4" width="65.7" height="394.9" fill="#fff"/>
<line x1="200.6" y1="476.4" x2="200.6" y2="871.3" stroke="#f0f0f0" stroke-width="1"/>
<line x1="216.4" y1="476.4" x2="216.4" y2="871.3" stroke="#f0f0f0" stroke-width="1"/>
<line x1="232.1" y1="476.4" x2="232.1" y2="871.3" stroke="#f0f0f0" stroke-width="1"/>
<line x1="247.9" y1="476.4" x2="247.9" y2="871.3" stroke="#f0f0f0" stroke-width="1"/>
<line x1="191.6" y1="487.7" x2="257.3" y2="487.7" stroke="#f0f0f0" stroke-width="1"/>
<line x1="191.6" y1="507.3" x2="257.3" y2="507.3" stroke="#f0f0f0" stroke-width="1"/>
<line x1="191.6" y1="526.8" x2="257.3" y2="526.8" stroke="#f0f0f0" stroke-width="1"/>
<line x1="191.6" y1="546.4" x2="257.3" y2="546.4" stroke="#f0f0f0" stroke-width="1"/>
<line x1="191.6" y1="565.9" x2="257.3" y2="565.9" stroke="#f0f0f0" stroke-width="1"/>
<line x1="191.6" y1="585.5" x2="257.3" y2="585.5" stroke="#f0f0f0" stroke-width="1"/>
<line x1="191.6" y1="605.1" x2="257.3" y2="605.1" stroke="#f0f0f0" stroke-width="1"/>
<line x1="191.6" y1="624.6" x2="257.3" y2="624.6" stroke="#f0f0f0" stroke-width="1"/>
<line x1="191.6" y1="644.2" x2="257.3" y2="644.2" stroke="#f0f0f0" stroke-width="1"/>
<line x1="191.6" y1="663.7" x2="257.3" y2="663.7" stroke="#f0f0f0" stroke-width="1"/>
<line x1="191.6" y1="683.3" x2="257.3" y2="683.3" stroke="#f0f0f0" stroke-width="1"/>
<line x1="191.6" y1="702.9" x2="257.3" y2="702.9" stroke="#f0f0f0" stroke-width="1"/>
<line x1="191.6" y1="722.4" x2="257.3" y2="722.4" stroke="#f0f0f0" stroke-width="1"/>
<line x1="191.6" y1="742.0" x2="257.3" y2="742.0" stroke="#f0f0f0" stroke-width="1"/>
<line x1="191.6" y1="761.5" x2="257.3" y2="761.5" stroke="#f0f0f0" stroke-width="1"/>
<line x1="191.6" y1="781.1" x2="257.3" y2="781.1" stroke="#f0f0f0" stroke-width="1"/>
<line x1="191.6" y1="800.7" x2="257.3" y2="800.7" stroke="#f0f0f0" stroke-width="1"/>
<line x1="191.6" y1="820.2" x2="257.3" y2="820.2" stroke="#f0f0f0" stroke-width="1"/>
<line x1="191.6" y1="839.8" x2="257.3" y2="839.8" stroke="#f0f0f0" stroke-width="1"/>
<line x1="191.6" y1="859.3" x2="257.3" y2="859.3" stroke="#f0f0f0" stroke-width="1"/>
<circle cx="200.6" cy="487.7" r="7.9" fill="#3a6fa8"/>
<line x1="188.6" y1="487.7" x2="191.6" y2="487.7" stroke="#333" stroke-width="1"/>
<text x="182.6" y="491.2" font-size="11" fill="#474747" text-anchor="end" style="white-space:pre">BMP signaling pathway</text>
<circle cx="200.6" cy="507.3" r="7.9" fill="#3f80b0"/>
<line x1="188.6" y1="507.3" x2="191.6" y2="507.3" stroke="#333" stroke-width="1"/>
<text x="182.6" y="510.8" font-size="11" fill="#474747" text-anchor="end" style="white-space:pre">response to BMP</text>
<circle cx="200.6" cy="526.8" r="7.9" fill="#3b79ab"/>
<line x1="188.6" y1="526.8" x2="191.6" y2="526.8" stroke="#333" stroke-width="1"/>
<text x="182.6" y="530.3" font-size="11" fill="#474747" text-anchor="end" style="white-space:pre">cellular response to BMP stimulus</text>
<circle cx="200.6" cy="546.4" r="7.0" fill="#2e4896"/>
<line x1="188.6" y1="546.4" x2="191.6" y2="546.4" stroke="#333" stroke-width="1"/>
<text x="182.6" y="549.9" font-size="11" fill="#474747" text-anchor="end" style="white-space:pre">regulation of leukocyte chemotaxis</text>
<circle cx="200.6" cy="565.9" r="7.8" fill="#52a5c0"/>
<line x1="188.6" y1="565.9" x2="191.6" y2="565.9" stroke="#333" stroke-width="1"/>
<text x="182.6" y="569.4" font-size="11" fill="#474747" text-anchor="end" style="white-space:pre">regulation of leukocyte migration</text>
<circle cx="216.4" cy="585.5" r="2.9" fill="#2b3590"/>
<line x1="188.6" y1="585.5" x2="191.6" y2="585.5" stroke="#333" stroke-width="1"/>
<text x="182.6" y="589.0" font-size="11" fill="#474747" text-anchor="end" style="white-space:pre">motor neuron axon guidance</text>
<circle cx="216.4" cy="605.1" r="7.6" fill="#d4f4d6"/>
<line x1="188.6" y1="605.1" x2="191.6" y2="605.1" stroke="#333" stroke-width="1"/>
<text x="182.6" y="608.6" font-size="11" fill="#474747" text-anchor="end" style="white-space:pre">regulation of osteoblast differentiation</text>
<circle cx="216.4" cy="624.6" r="8.3" fill="#fcf7da"/>
<line x1="188.6" y1="624.6" x2="191.6" y2="624.6" stroke="#333" stroke-width="1"/>
<text x="182.6" y="628.1" font-size="11" fill="#474747" text-anchor="end" style="white-space:pre">protein stabilization</text>
<circle cx="216.4" cy="644.2" r="8.3" fill="#fef6d6"/>
<line x1="188.6" y1="644.2" x2="191.6" y2="644.2" stroke="#333" stroke-width="1"/>
<text x="182.6" y="647.7" font-size="11" fill="#474747" text-anchor="end" style="white-space:pre">ear development</text>
<circle cx="216.4" cy="663.7" r="8.3" fill="#fef5d5"/>
<line x1="188.6" y1="663.7" x2="191.6" y2="663.7" stroke="#333" stroke-width="1"/>
<text x="182.6" y="667.2" font-size="11" fill="#474747" text-anchor="end" style="white-space:pre">regulation of ossification</text>
<circle cx="232.1" cy="683.3" r="9.1" fill="#d5f5d6"/>
<line x1="188.6" y1="683.3" x2="191.6" y2="683.3" stroke="#333" stroke-width="1"/>
<text x="182.6" y="686.8" font-size="11" fill="#474747" text-anchor="end" style="white-space:pre">maintenance of cell polarity</text>
<circle cx="232.1" cy="702.9" r="8.8" fill="#d6f5d6"/>
<line x1="188.6" y1="702.9" x2="191.6" y2="702.9" stroke="#333" stroke-width="1"/>
<text x="182.6" y="706.4" font-size="11" fill="#474747" text-anchor="end" style="white-space:pre">response to unfolded protein</text>
<circle cx="232.1" cy="722.4" r="8.6" fill="#b5e8dc"/>
<line x1="188.6" y1="722.4" x2="191.6" y2="722.4" stroke="#333" stroke-width="1"/>
<text x="182.6" y="725.9" font-size="11" fill="#474747" text-anchor="end" style="white-space:pre">cellular response to unfolded protein</text>
<circle cx="232.1" cy="742.0" r="8.2" fill="#ace4dc"/>
<line x1="188.6" y1="742.0" x2="191.6" y2="742.0" stroke="#333" stroke-width="1"/>
<text x="182.6" y="745.5" font-size="11" fill="#474747" text-anchor="end" style="white-space:pre">ER unfolded protein response</text>
<circle cx="232.1" cy="761.5" r="8.2" fill="#b0e8d8"/>
<line x1="188.6" y1="761.5" x2="191.6" y2="761.5" stroke="#333" stroke-width="1"/>
<text x="182.6" y="765.0" font-size="11" fill="#474747" text-anchor="end" style="white-space:pre">response to calcium ion</text>
<circle cx="247.9" cy="781.1" r="5.5" fill="#3d7cac"/>
<line x1="188.6" y1="781.1" x2="191.6" y2="781.1" stroke="#333" stroke-width="1"/>
<text x="182.6" y="784.6" font-size="11" fill="#474747" text-anchor="end" style="white-space:pre">regulation of cation channel activity</text>
<circle cx="247.9" cy="800.7" r="5.5" fill="#50a8c0"/>
<line x1="188.6" y1="800.7" x2="191.6" y2="800.7" stroke="#333" stroke-width="1"/>
<text x="182.6" y="804.2" font-size="11" fill="#474747" text-anchor="end" style="white-space:pre">striated muscle cell development</text>
<circle cx="247.9" cy="820.2" r="2.9" fill="#3d7cac"/>
<line x1="188.6" y1="820.2" x2="191.6" y2="820.2" stroke="#333" stroke-width="1"/>
<text x="182.6" y="823.7" font-size="11" fill="#474747" text-anchor="end" style="white-space:pre">regulation of tube size</text>
<circle cx="247.9" cy="839.8" r="2.9" fill="#3d7cac"/>
<line x1="188.6" y1="839.8" x2="191.6" y2="839.8" stroke="#333" stroke-width="1"/>
<text x="182.6" y="843.3" font-size="11" fill="#474747" text-anchor="end" style="white-space:pre">regulation of tube diameter</text>
<circle cx="247.9" cy="859.3" r="2.9" fill="#3d7cac"/>
<line x1="188.6" y1="859.3" x2="191.6" y2="859.3" stroke="#333" stroke-width="1"/>
<text x="182.6" y="862.8" font-size="11" fill="#474747" text-anchor="end" style="white-space:pre">regulation of blood vessel diameter</text>
<rect x="191.6" y="476.4" width="65.7" height="394.9" fill="none" stroke="#3d3d3d" stroke-width="1.1"/>
<line x1="200.6" y1="871.3" x2="200.6" y2="874.1" stroke="#333" stroke-width="1"/>
<text x="197.8" y="888.5" font-size="10.4" fill="#1a1a1a" text-anchor="middle">K1</text>
<line x1="216.4" y1="871.3" x2="216.4" y2="874.1" stroke="#333" stroke-width="1"/>
<text x="216.8" y="888.5" font-size="10.4" fill="#1a1a1a" text-anchor="middle">K3</text>
<line x1="232.1" y1="871.3" x2="232.1" y2="874.1" stroke="#333" stroke-width="1"/>
<text x="235.1" y="888.5" font-size="10.4" fill="#1a1a1a" text-anchor="middle">K4</text>
<line x1="247.9" y1="871.3" x2="247.9" y2="874.1" stroke="#333" stroke-width="1"/>
<text x="252.2" y="888.5" font-size="10.4" fill="#1a1a1a" text-anchor="middle">K5</text>
<rect x="533.6" y="477.2" width="81.0" height="388.3" fill="#fff"/>
<line x1="544.8" y1="477.2" x2="544.8" y2="865.5" stroke="#f0f0f0" stroke-width="1"/>
<line x1="564.2" y1="477.2" x2="564.2" y2="865.5" stroke="#f0f0f0" stroke-width="1"/>
<line x1="583.4" y1="477.2" x2="583.4" y2="865.5" stroke="#f0f0f0" stroke-width="1"/>
<line x1="602.6" y1="477.2" x2="602.6" y2="865.5" stroke="#f0f0f0" stroke-width="1"/>
<line x1="533.6" y1="488.8" x2="614.6" y2="488.8" stroke="#f0f0f0" stroke-width="1"/>
<line x1="533.6" y1="509.1" x2="614.6" y2="509.1" stroke="#f0f0f0" stroke-width="1"/>
<line x1="533.6" y1="529.3" x2="614.6" y2="529.3" stroke="#f0f0f0" stroke-width="1"/>
<line x1="533.6" y1="549.5" x2="614.6" y2="549.5" stroke="#f0f0f0" stroke-width="1"/>
<line x1="533.6" y1="569.8" x2="614.6" y2="569.8" stroke="#f0f0f0" stroke-width="1"/>
<line x1="533.6" y1="590.0" x2="614.6" y2="590.0" stroke="#f0f0f0" stroke-width="1"/>
<line x1="533.6" y1="610.3" x2="614.6" y2="610.3" stroke="#f0f0f0" stroke-width="1"/>
<line x1="533.6" y1="630.5" x2="614.6" y2="630.5" stroke="#f0f0f0" stroke-width="1"/>
<line x1="533.6" y1="650.8" x2="614.6" y2="650.8" stroke="#f0f0f0" stroke-width="1"/>
<line x1="533.6" y1="671.0" x2="614.6" y2="671.0" stroke="#f0f0f0" stroke-width="1"/>
<line x1="533.6" y1="691.3" x2="614.6" y2="691.3" stroke="#f0f0f0" stroke-width="1"/>
<line x1="533.6" y1="711.5" x2="614.6" y2="711.5" stroke="#f0f0f0" stroke-width="1"/>
<line x1="533.6" y1="731.8" x2="614.6" y2="731.8" stroke="#f0f0f0" stroke-width="1"/>
<line x1="533.6" y1="752.0" x2="614.6" y2="752.0" stroke="#f0f0f0" stroke-width="1"/>
<line x1="533.6" y1="772.3" x2="614.6" y2="772.3" stroke="#f0f0f0" stroke-width="1"/>
<line x1="533.6" y1="792.5" x2="614.6" y2="792.5" stroke="#f0f0f0" stroke-width="1"/>
<line x1="533.6" y1="812.8" x2="614.6" y2="812.8" stroke="#f0f0f0" stroke-width="1"/>
<line x1="533.6" y1="833.0" x2="614.6" y2="833.0" stroke="#f0f0f0" stroke-width="1"/>
<line x1="533.6" y1="853.3" x2="614.6" y2="853.3" stroke="#f0f0f0" stroke-width="1"/>
<circle cx="544.8" cy="488.8" r="8.6" fill="#2b3588"/>
<line x1="530.6" y1="488.8" x2="533.6" y2="488.8" stroke="#333" stroke-width="1"/>
<text x="526.0" y="492.3" font-size="11" fill="#474747" text-anchor="end" style="white-space:pre">TGF  beta signaling pathway</text>
<circle cx="544.8" cy="509.1" r="8.3" fill="#58b6c6"/>
<line x1="530.6" y1="509.1" x2="533.6" y2="509.1" stroke="#333" stroke-width="1"/>
<text x="526.0" y="512.5" font-size="11" fill="#474747" text-anchor="end" style="white-space:pre">Signaling pathways - stem cells</text>
<circle cx="544.8" cy="529.3" r="7.0" fill="#344e9c"/>
<line x1="530.6" y1="529.3" x2="533.6" y2="529.3" stroke="#333" stroke-width="1"/>
<text x="526.0" y="532.8" font-size="11" fill="#474747" text-anchor="end" style="white-space:pre">Morphine addiction</text>
<circle cx="544.8" cy="549.5" r="8.2" fill="#aee4dc"/>
<line x1="530.6" y1="549.5" x2="533.6" y2="549.5" stroke="#333" stroke-width="1"/>
<text x="526.0" y="553.0" font-size="11" fill="#474747" text-anchor="end" style="white-space:pre">Hippo signaling pathway</text>
<circle cx="544.8" cy="569.8" r="8.2" fill="#eef7d4"/>
<circle cx="564.2" cy="569.8" r="8.9" fill="#e6e6e6"/>
<line x1="530.6" y1="569.8" x2="533.6" y2="569.8" stroke="#333" stroke-width="1"/>
<text x="526.0" y="573.3" font-size="11" fill="#474747" text-anchor="end" style="white-space:pre">Ras signaling pathway</text>
<circle cx="564.2" cy="590.0" r="8.2" fill="#e6e6e6"/>
<line x1="530.6" y1="590.0" x2="533.6" y2="590.0" stroke="#333" stroke-width="1"/>
<text x="526.0" y="593.5" font-size="11" fill="#474747" text-anchor="end" style="white-space:pre">FoxO signaling pathway</text>
<circle cx="564.2" cy="610.3" r="8.2" fill="#e6e6e6"/>
<line x1="530.6" y1="610.3" x2="533.6" y2="610.3" stroke="#333" stroke-width="1"/>
<text x="526.0" y="613.8" font-size="11" fill="#474747" text-anchor="end" style="white-space:pre">Lysosome</text>
<circle cx="564.2" cy="630.5" r="8.2" fill="#e6e6e6"/>
<line x1="530.6" y1="630.5" x2="533.6" y2="630.5" stroke="#333" stroke-width="1"/>
<text x="526.0" y="634.0" font-size="11" fill="#474747" text-anchor="end" style="white-space:pre">Autophagy</text>
<circle cx="564.2" cy="650.8" r="7.6" fill="#e6e6e6"/>
<line x1="530.6" y1="650.8" x2="533.6" y2="650.8" stroke="#333" stroke-width="1"/>
<text x="526.0" y="654.3" font-size="11" fill="#474747" text-anchor="end" style="white-space:pre">Sphingolipid signaling pathway</text>
<circle cx="583.4" cy="671.0" r="10.2" fill="#c6f0dc"/>
<line x1="530.6" y1="671.0" x2="533.6" y2="671.0" stroke="#333" stroke-width="1"/>
<text x="526.0" y="674.5" font-size="11" fill="#474747" text-anchor="end" style="white-space:pre">Pathogenic Escherichia coli infection</text>
<circle cx="583.4" cy="691.3" r="9.6" fill="#d4f5d6"/>
<line x1="530.6" y1="691.3" x2="533.6" y2="691.3" stroke="#333" stroke-width="1"/>
<text x="526.0" y="694.8" font-size="11" fill="#474747" text-anchor="end" style="white-space:pre">Tight junction</text>
<circle cx="583.4" cy="711.5" r="9.6" fill="#f2f8d8"/>
<line x1="530.6" y1="711.5" x2="533.6" y2="711.5" stroke="#333" stroke-width="1"/>
<text x="526.0" y="715.0" font-size="11" fill="#474747" text-anchor="end" style="white-space:pre">Regulation of actin cytoskeleton</text>
<circle cx="583.4" cy="731.8" r="7.8" fill="#3670a6"/>
<line x1="530.6" y1="731.8" x2="533.6" y2="731.8" stroke="#333" stroke-width="1"/>
<text x="526.0" y="735.3" font-size="11" fill="#474747" text-anchor="end" style="white-space:pre">Aminoacyl  tRNA biosynthesis</text>
<circle cx="583.4" cy="752.0" r="9.6" fill="#fef8dc"/>
<line x1="530.6" y1="752.0" x2="533.6" y2="752.0" stroke="#333" stroke-width="1"/>
<text x="526.0" y="755.5" font-size="11" fill="#474747" text-anchor="end" style="white-space:pre">Proteoglycans in cancer</text>
<circle cx="602.6" cy="772.3" r="3.4" fill="#2a3590"/>
<line x1="530.6" y1="772.3" x2="533.6" y2="772.3" stroke="#333" stroke-width="1"/>
<text x="526.0" y="775.8" font-size="11" fill="#474747" text-anchor="end" style="white-space:pre">PPAR signaling pathway</text>
<circle cx="602.6" cy="792.5" r="6.0" fill="#e8e8e8"/>
<line x1="530.6" y1="792.5" x2="533.6" y2="792.5" stroke="#333" stroke-width="1"/>
<text x="526.0" y="796.0" font-size="11" fill="#474747" text-anchor="end" style="white-space:pre">cGMP  PKG signaling pathway</text>
<circle cx="602.6" cy="812.8" r="2.9" fill="#ebebeb"/>
<line x1="530.6" y1="812.8" x2="533.6" y2="812.8" stroke="#333" stroke-width="1"/>
<text x="526.0" y="816.3" font-size="11" fill="#474747" text-anchor="end" style="white-space:pre">Leukocyte transendothelial migration</text>
<circle cx="602.6" cy="833.0" r="2.9" fill="#ebebeb"/>
<line x1="530.6" y1="833.0" x2="533.6" y2="833.0" stroke="#333" stroke-width="1"/>
<text x="526.0" y="836.5" font-size="11" fill="#474747" text-anchor="end" style="white-space:pre">Alcoholism</text>
<circle cx="602.6" cy="853.3" r="2.9" fill="#ebebeb"/>
<line x1="530.6" y1="853.3" x2="533.6" y2="853.3" stroke="#333" stroke-width="1"/>
<text x="526.0" y="856.8" font-size="11" fill="#474747" text-anchor="end" style="white-space:pre">Relaxin signaling pathway</text>
<rect x="533.6" y="477.2" width="81.0" height="388.3" fill="none" stroke="#3d3d3d" stroke-width="1.1"/>
<line x1="544.8" y1="865.5" x2="544.8" y2="868.3" stroke="#333" stroke-width="1"/>
<text x="545.8" y="882.7" font-size="10.4" fill="#1a1a1a" text-anchor="middle">K1</text>
<line x1="564.2" y1="865.5" x2="564.2" y2="868.3" stroke="#333" stroke-width="1"/>
<text x="564.9" y="882.7" font-size="10.4" fill="#1a1a1a" text-anchor="middle">K3</text>
<line x1="583.4" y1="865.5" x2="583.4" y2="868.3" stroke="#333" stroke-width="1"/>
<text x="582.9" y="882.7" font-size="10.4" fill="#1a1a1a" text-anchor="middle">K4</text>
<line x1="602.6" y1="865.5" x2="602.6" y2="868.3" stroke="#333" stroke-width="1"/>
<text x="600.3" y="882.7" font-size="10.4" fill="#1a1a1a" text-anchor="middle">K5</text>
<text transform="translate(282.4,580.7) rotate(-90)" font-size="14" fill="#1a1a1a" text-anchor="middle">Odds ratio</text>
<rect x="287.2" y="537.3" width="17.4" height="87.5" fill="url(#og)"/>
<text x="308.3" y="575.5" font-size="14" fill="#1a1a1a">8</text>
<line x1="287.2" y1="570.8" x2="290.7" y2="570.8" stroke="#fff" stroke-opacity="0.8" stroke-width="0.8"/>
<line x1="301.1" y1="570.8" x2="304.6" y2="570.8" stroke="#fff" stroke-opacity="0.8" stroke-width="0.8"/>
<line x1="287.2" y1="615.4" x2="290.7" y2="615.4" stroke="#fff" stroke-opacity="0.8" stroke-width="0.8"/>
<line x1="301.1" y1="615.4" x2="304.6" y2="615.4" stroke="#fff" stroke-opacity="0.8" stroke-width="0.8"/>
<text x="308.0" y="620.0" font-size="14" fill="#1a1a1a">4</text>
<text transform="translate(283,739) rotate(-90)" font-size="14" fill="#1a1a1a" text-anchor="middle"># of intersected genes</text>
<circle cx="299" cy="738.7" r="7" fill="#e6e6e6"/>
<text x="308.4" y="742.9" font-size="14" fill="#1a1a1a">8</text>
<text transform="translate(636.2,580.6) rotate(-90)" font-size="14" fill="#1a1a1a" text-anchor="middle">Odds ratio</text>
<rect x="641.8" y="538.9" width="19.5" height="94.4" fill="url(#og)"/>
<line x1="641.8" y1="558.4" x2="645.7" y2="558.4" stroke="#fff" stroke-opacity="0.8" stroke-width="0.8"/>
<line x1="657.4" y1="558.4" x2="661.3" y2="558.4" stroke="#fff" stroke-opacity="0.8" stroke-width="0.8"/>
<line x1="641.8" y1="622.4" x2="645.7" y2="622.4" stroke="#fff" stroke-opacity="0.8" stroke-width="0.8"/>
<line x1="657.4" y1="622.4" x2="661.3" y2="622.4" stroke="#fff" stroke-opacity="0.8" stroke-width="0.8"/>
<text x="664.0" y="563.2" font-size="14" fill="#1a1a1a">8</text>
<text x="663.8" y="625.0" font-size="14" fill="#1a1a1a">4</text>
<text transform="translate(636.3,739.2) rotate(-90)" font-size="14" fill="#1a1a1a" text-anchor="middle"># of intersected genes</text>
<circle cx="661.3" cy="737" r="6" fill="#e6e6e6"/>
<circle cx="661.3" cy="757.1" r="8.6" fill="#e6e6e6"/>
<text x="677.6" y="742.1" font-size="14" fill="#1a1a1a">4</text>
<text x="677.6" y="762.2" font-size="14" fill="#1a1a1a">8</text>
</svg></div></body></html>
